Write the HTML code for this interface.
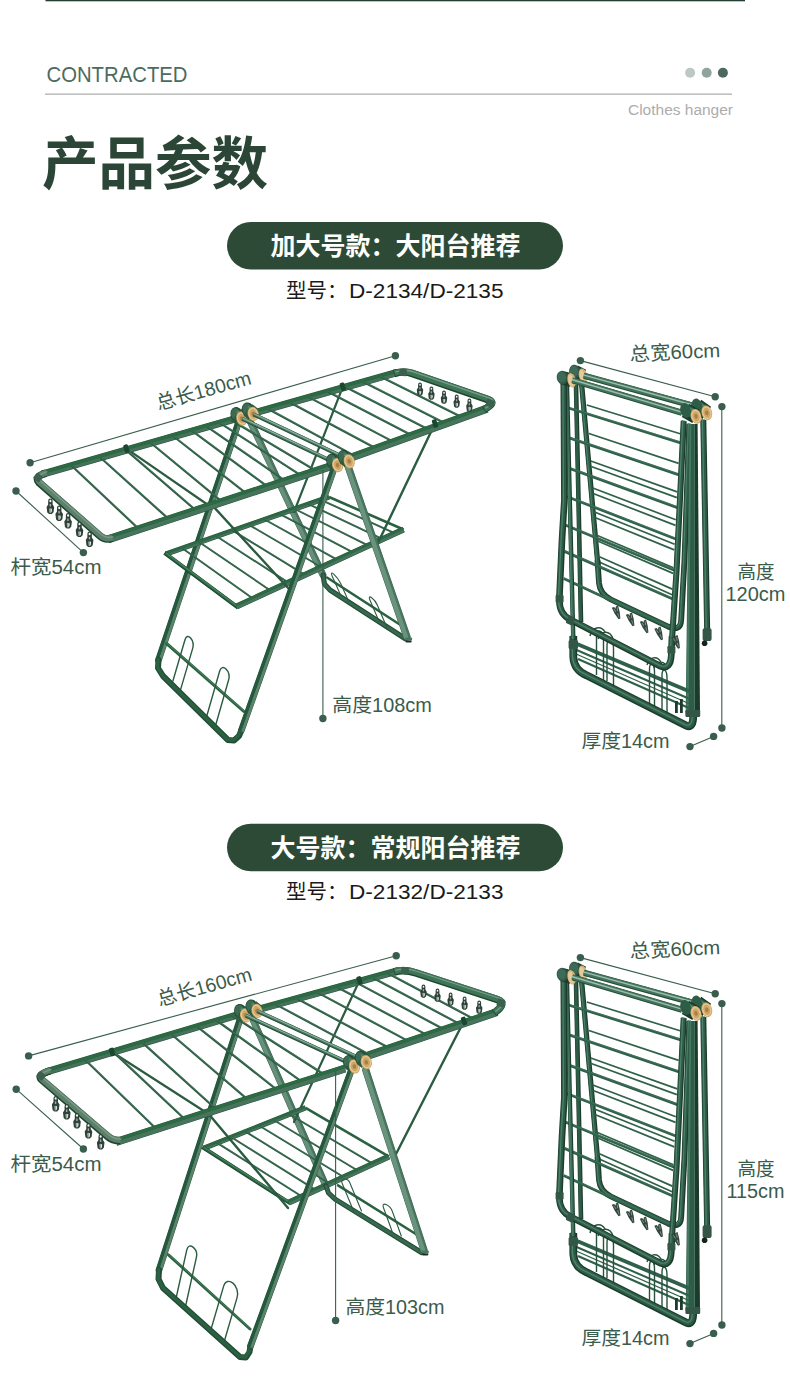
<!DOCTYPE html>
<html lang="zh-CN"><head><meta charset="utf-8"><title>产品参数</title>
<style>html,body{margin:0;padding:0;background:#fff;font-family:"Liberation Sans",sans-serif}#page{width:790px;height:1382px;position:relative;overflow:hidden}.sr{position:absolute;left:0;top:0;width:1px;height:1px;overflow:hidden;clip:rect(0 0 0 0);clip-path:inset(50%);white-space:nowrap}</style></head>
<body><div id="page">
<svg width="790" height="1382" viewBox="0 0 790 1382" style="display:block">
<rect width="790" height="1382" fill="#fff"/>
<rect x="45.5" y="0" width="699.5" height="1.3" fill="#22402f"/>
<text x="46.5" y="82.3" font-family="'Liberation Sans','Noto Sans CJK SC',sans-serif" font-size="22" fill="#4c6b5e" textLength="141" lengthAdjust="spacingAndGlyphs">CONTRACTED</text>
<rect x="45" y="93.6" width="687" height="1" fill="#959b98"/>
<circle cx="690.1" cy="72.8" r="5" fill="#bcc9c3"/>
<circle cx="706.7" cy="72.8" r="5" fill="#8fa49b"/>
<circle cx="722.9" cy="72.8" r="5" fill="#4c695e"/>
<text x="628" y="115.4" font-family="'Liberation Sans','Noto Sans CJK SC',sans-serif" font-size="15.5" fill="#acadad" textLength="105" lengthAdjust="spacingAndGlyphs">Clothes hanger</text>
<text x="42" y="183.5" font-family="'Liberation Sans','Noto Sans CJK SC',sans-serif" font-size="56.5" font-weight="700" fill="#2b4636">产品参数</text>
<rect x="227" y="222" width="336" height="47.5" rx="23.75" fill="#2d4a36"/>
<text x="395.5" y="255" text-anchor="middle" font-family="'Liberation Sans','Noto Sans CJK SC',sans-serif" font-size="25" font-weight="700" fill="#ffffff">加大号款：大阳台推荐</text>
<text x="286" y="297.6" font-family="'Liberation Sans','Noto Sans CJK SC',sans-serif" font-size="20.5" fill="#1a1a1a">型号：</text>
<text x="349" y="297.6" font-family="'Liberation Sans','Noto Sans CJK SC',sans-serif" font-size="20.5" fill="#1a1a1a" textLength="154.5" lengthAdjust="spacingAndGlyphs">D-2134/D-2135</text>
<rect x="227" y="823.8" width="336" height="47.5" rx="23.75" fill="#2d4a36"/>
<text x="395.5" y="857" text-anchor="middle" font-family="'Liberation Sans','Noto Sans CJK SC',sans-serif" font-size="25" font-weight="700" fill="#ffffff">大号款：常规阳台推荐</text>
<text x="286" y="899.4" font-family="'Liberation Sans','Noto Sans CJK SC',sans-serif" font-size="20.5" fill="#1a1a1a">型号：</text>
<text x="349" y="899.4" font-family="'Liberation Sans','Noto Sans CJK SC',sans-serif" font-size="20.5" fill="#1a1a1a" textLength="154.5" lengthAdjust="spacingAndGlyphs">D-2132/D-2133</text>
<g><path d="M240.3 417.2L158.5 660" stroke="#2c5641" stroke-width="6.7" stroke-linecap="round" fill="none"/><path d="M241.7 417.7L159.9 660.5" stroke="#5b836c" stroke-width="2.9" stroke-linecap="round" fill="none"/><path d="M238.9 416.7L157.1 659.5" stroke="#23593c" stroke-width="2.9" stroke-linecap="round" fill="none"/><path d="M248.3 417.4L323 575" stroke="#3a6651" stroke-width="6.9" stroke-linecap="round" fill="none"/><path d="M250.1 416.5L324.8 574.2" stroke="#4a7660" stroke-width="2" stroke-linecap="round" fill="none"/><path d="M247.4 417.8L322.1 575.4" stroke="#67907b" stroke-width="4" stroke-linecap="round" fill="none"/><path d="M126.4 448.6L211 507" stroke="#2b5b40" stroke-width="2.2" stroke-linecap="round" fill="none"/><path d="M342.8 386.8L294 512" stroke="#2b5b40" stroke-width="2.2" stroke-linecap="round" fill="none"/><path d="M166 554L329 497" stroke="#2a5540" stroke-width="5.3" stroke-linecap="butt" fill="none"/><path d="M166.4 555L329.4 498" stroke="#46715a" stroke-width="2.2" stroke-linecap="butt" fill="none"/><path d="M165.6 553L328.6 496" stroke="#2b6b42" stroke-width="2.2" stroke-linecap="butt" fill="none"/><path d="M182.3 548.3L253.2 598.8" stroke="#2a5a40" stroke-width="1.9" stroke-linecap="butt" fill="none"/><path d="M182.3 547.8L253.2 598.3" stroke="#5c917a" stroke-width="0.7" stroke-linecap="butt" fill="none" opacity="0.6"/><path d="M199.4 542.3L270.7 590.7" stroke="#2a5a40" stroke-width="1.9" stroke-linecap="butt" fill="none"/><path d="M199.4 541.8L270.7 590.2" stroke="#5c917a" stroke-width="0.7" stroke-linecap="butt" fill="none" opacity="0.6"/><path d="M216.5 536.3L288.3 582.6" stroke="#2a5a40" stroke-width="1.9" stroke-linecap="butt" fill="none"/><path d="M216.5 535.8L288.3 582.1" stroke="#5c917a" stroke-width="0.7" stroke-linecap="butt" fill="none" opacity="0.6"/><path d="M232.8 530.6L305 574.9" stroke="#2a5a40" stroke-width="1.9" stroke-linecap="butt" fill="none"/><path d="M232.8 530.1L305 574.4" stroke="#5c917a" stroke-width="0.7" stroke-linecap="butt" fill="none" opacity="0.6"/><path d="M249.1 524.9L321.7 567.2" stroke="#2a5a40" stroke-width="1.9" stroke-linecap="butt" fill="none"/><path d="M249.1 524.4L321.7 566.7" stroke="#5c917a" stroke-width="0.7" stroke-linecap="butt" fill="none" opacity="0.6"/><path d="M264.6 519.5L337.5 559.9" stroke="#2a5a40" stroke-width="1.9" stroke-linecap="butt" fill="none"/><path d="M264.6 519L337.5 559.4" stroke="#5c917a" stroke-width="0.7" stroke-linecap="butt" fill="none" opacity="0.6"/><path d="M280.1 514.1L353.4 552.6" stroke="#2a5a40" stroke-width="1.9" stroke-linecap="butt" fill="none"/><path d="M280.1 513.6L353.4 552.1" stroke="#5c917a" stroke-width="0.7" stroke-linecap="butt" fill="none" opacity="0.6"/><path d="M294.8 509L368.4 545.7" stroke="#2a5a40" stroke-width="1.9" stroke-linecap="butt" fill="none"/><path d="M294.8 508.5L368.4 545.2" stroke="#5c917a" stroke-width="0.7" stroke-linecap="butt" fill="none" opacity="0.6"/><path d="M308.6 504.1L382.6 539.1" stroke="#2a5a40" stroke-width="1.9" stroke-linecap="butt" fill="none"/><path d="M308.6 503.6L382.6 538.6" stroke="#5c917a" stroke-width="0.7" stroke-linecap="butt" fill="none" opacity="0.6"/><path d="M320.9 499.9L395.1 533.4" stroke="#2a5a40" stroke-width="1.9" stroke-linecap="butt" fill="none"/><path d="M320.9 499.4L395.1 532.9" stroke="#5c917a" stroke-width="0.7" stroke-linecap="butt" fill="none" opacity="0.6"/><path d="M329 497L403.5 529.5" stroke="#2a6140" stroke-width="2.6" stroke-linecap="butt" fill="none"/><path d="M166 554L236.5 606.5" stroke="#1c4630" stroke-width="3.8" stroke-linecap="square" fill="none"/><path d="M166.3 553.6L236.8 606.1" stroke="#2a6140" stroke-width="2.9" stroke-linecap="square" fill="none"/><path d="M166.5 553.4L237 605.9" stroke="#47875f" stroke-width="1.1" stroke-linecap="square" fill="none"/><path d="M236.5 606.5L403.5 529.5" stroke="#2a5540" stroke-width="6.1" stroke-linecap="butt" fill="none"/><path d="M237 607.6L404 530.6" stroke="#48735c" stroke-width="2.9" stroke-linecap="butt" fill="none"/><path d="M235.9 605.2L402.9 528.2" stroke="#2b6c42" stroke-width="2.3" stroke-linecap="butt" fill="none"/><path d="M323 575L324.5 584L330 590L405 638.5" stroke="#234b36" stroke-width="5.1" stroke-linecap="round" stroke-linejoin="round" fill="none"/><path d="M323 575L324.5 584L330 590L405 638.5" stroke="#37694e" stroke-width="3" stroke-linecap="round" stroke-linejoin="round" fill="none"/><path d="M327 577.5L399 624" stroke="#2a6140" stroke-width="2.6" stroke-linecap="round" fill="none"/><path d="M340.3 594.4L332.2 576.2C328.8 568.6 337.4 576.2 340.8 583.8L348.9 602" stroke="#2b5b40" stroke-width="1.1" fill="none" stroke-linecap="round"/><path d="M379.2 621.8L369.8 599.7C367.2 593.4 374.8 598.9 377.4 605.2L386.8 627.3" stroke="#2b5b40" stroke-width="1.1" fill="none" stroke-linecap="round"/><path d="M166.6 643.5L243.8 711.4" stroke="#2a6140" stroke-width="3" stroke-linecap="round" fill="none"/><path d="M166.6 642.9L243.8 710.8" stroke="#47875f" stroke-width="1" stroke-linecap="round" fill="none"/><path d="M172.9 681L185 639.7C187.4 631.6 195 640.5 192.6 648.6L180.5 689.9" stroke="#2b5b40" stroke-width="1.4" fill="none" stroke-linecap="round"/><path d="M207 715.2L219.6 671.2C222.1 662.4 231.1 671.2 228.6 680L216 724" stroke="#2b5b40" stroke-width="1.4" fill="none" stroke-linecap="round"/><path d="M158.5 660L158 668L163 676L228 740L234 740.5L239 736L241.5 730" stroke="#234b36" stroke-width="6" stroke-linecap="round" stroke-linejoin="round" fill="none"/><path d="M158.1 659.5L157.6 667.5L162.6 675.5L227.6 739.5L233.6 740L238.6 735.5L241.1 729.5" stroke="#2a6140" stroke-width="3.6" stroke-linecap="round" stroke-linejoin="round" fill="none"/><path d="M42 474.3L240 417.4" stroke="#2a5540" stroke-width="7.3" stroke-linecap="butt" fill="none"/><path d="M42.4 475.8L240.4 418.9" stroke="#46715a" stroke-width="3.2" stroke-linecap="butt" fill="none"/><path d="M41.6 472.8L239.6 415.9" stroke="#2b6b42" stroke-width="3.2" stroke-linecap="butt" fill="none"/><path d="M71.7 465.8L139.1 529.2" stroke="#2a5a40" stroke-width="2.2" stroke-linecap="butt" fill="none"/><path d="M71.7 465.3L139.1 528.7" stroke="#5c917a" stroke-width="0.8" stroke-linecap="butt" fill="none" opacity="0.6"/><path d="M100.4 457.5L169.1 519.4" stroke="#2a5a40" stroke-width="2.2" stroke-linecap="butt" fill="none"/><path d="M100.4 457L169.1 518.9" stroke="#5c917a" stroke-width="0.8" stroke-linecap="butt" fill="none" opacity="0.6"/><path d="M126.1 450.1L196.1 510.5" stroke="#2a5a40" stroke-width="2.2" stroke-linecap="butt" fill="none"/><path d="M126.1 449.6L196.1 510" stroke="#5c917a" stroke-width="0.8" stroke-linecap="butt" fill="none" opacity="0.6"/><path d="M150.9 443L222.2 501.9" stroke="#2a5a40" stroke-width="2.2" stroke-linecap="butt" fill="none"/><path d="M150.9 442.5L222.2 501.4" stroke="#5c917a" stroke-width="0.8" stroke-linecap="butt" fill="none" opacity="0.6"/><path d="M173.7 436.5L246.9 493.8" stroke="#2a5a40" stroke-width="2.2" stroke-linecap="butt" fill="none"/><path d="M173.7 436L246.9 493.3" stroke="#5c917a" stroke-width="0.8" stroke-linecap="butt" fill="none" opacity="0.6"/><path d="M192.5 431.1L268 486.9" stroke="#2a5a40" stroke-width="2.2" stroke-linecap="butt" fill="none"/><path d="M192.5 430.6L268 486.4" stroke="#5c917a" stroke-width="0.8" stroke-linecap="butt" fill="none" opacity="0.6"/><path d="M207.3 426.8L285.6 481.1" stroke="#2a5a40" stroke-width="2.2" stroke-linecap="butt" fill="none"/><path d="M207.3 426.3L285.6 480.6" stroke="#5c917a" stroke-width="0.8" stroke-linecap="butt" fill="none" opacity="0.6"/><path d="M220.2 423.1L301.7 475.8" stroke="#2a5a40" stroke-width="2.2" stroke-linecap="butt" fill="none"/><path d="M220.2 422.6L301.7 475.3" stroke="#5c917a" stroke-width="0.8" stroke-linecap="butt" fill="none" opacity="0.6"/><path d="M231.1 420L316.3 471" stroke="#2a5a40" stroke-width="2.2" stroke-linecap="butt" fill="none"/><path d="M231.1 419.5L316.3 470.5" stroke="#5c917a" stroke-width="0.8" stroke-linecap="butt" fill="none" opacity="0.6"/><path d="M254 413L397 372.6" stroke="#2a5540" stroke-width="7.3" stroke-linecap="butt" fill="none"/><path d="M254.4 414.5L397.4 374.1" stroke="#46715a" stroke-width="3.2" stroke-linecap="butt" fill="none"/><path d="M253.6 411.5L396.6 371.1" stroke="#2b6b42" stroke-width="3.2" stroke-linecap="butt" fill="none"/><path d="M268.3 409L355.1 456.1" stroke="#2a5a40" stroke-width="2.2" stroke-linecap="butt" fill="none"/><path d="M268.3 408.5L355.1 455.6" stroke="#5c917a" stroke-width="0.8" stroke-linecap="butt" fill="none" opacity="0.6"/><path d="M290.5 402.7L376.2 448.5" stroke="#2a5a40" stroke-width="2.2" stroke-linecap="butt" fill="none"/><path d="M290.5 402.2L376.2 448" stroke="#5c917a" stroke-width="0.8" stroke-linecap="butt" fill="none" opacity="0.6"/><path d="M309.1 397.4L393.9 442.1" stroke="#2a5a40" stroke-width="2.2" stroke-linecap="butt" fill="none"/><path d="M309.1 396.9L393.9 441.6" stroke="#5c917a" stroke-width="0.8" stroke-linecap="butt" fill="none" opacity="0.6"/><path d="M328.4 392L412.2 435.5" stroke="#2a5a40" stroke-width="2.2" stroke-linecap="butt" fill="none"/><path d="M328.4 391.5L412.2 435" stroke="#5c917a" stroke-width="0.8" stroke-linecap="butt" fill="none" opacity="0.6"/><path d="M345.5 387.1L428.5 429.6" stroke="#2a5a40" stroke-width="2.2" stroke-linecap="butt" fill="none"/><path d="M345.5 386.6L428.5 429.1" stroke="#5c917a" stroke-width="0.8" stroke-linecap="butt" fill="none" opacity="0.6"/><path d="M363.4 382.1L445.5 423.5" stroke="#2a5a40" stroke-width="2.2" stroke-linecap="butt" fill="none"/><path d="M363.4 381.6L445.5 423" stroke="#5c917a" stroke-width="0.8" stroke-linecap="butt" fill="none" opacity="0.6"/><path d="M381.3 377L462.5 417.4" stroke="#2a5a40" stroke-width="2.2" stroke-linecap="butt" fill="none"/><path d="M381.3 376.5L462.5 416.9" stroke="#5c917a" stroke-width="0.8" stroke-linecap="butt" fill="none" opacity="0.6"/><path d="M435 423.5L376 547" stroke="#2b5b40" stroke-width="2.4" stroke-linecap="round" fill="none"/><path d="M212 505L290 590" stroke="#2b5b40" stroke-width="2.4" stroke-linecap="round" fill="none"/><path d="M108 539.4L331 466.2" stroke="#2a5540" stroke-width="8.1" stroke-linecap="butt" fill="none"/><path d="M108.5 540.8L331.5 467.6" stroke="#48735c" stroke-width="4.2" stroke-linecap="butt" fill="none"/><path d="M107.3 537.4L330.3 464.2" stroke="#2b6c42" stroke-width="3" stroke-linecap="butt" fill="none"/><path d="M46 473.2Q34 476.6 39 482.6L100 536Q105 540.5 112 538.2" stroke="#1c4630" stroke-width="7.6" fill="none" stroke-linecap="butt"/><path d="M46 473.2Q34 476.6 39 482.6L100 536Q105 540.5 112 538.2" stroke="#5d806a" stroke-width="6" fill="none" stroke-linecap="butt" transform="translate(0.5 -0.6)"/><path d="M46 473.2Q34 476.6 39 482.6L100 536Q105 540.5 112 538.2" stroke="#7a9c88" stroke-width="1.3" fill="none" stroke-linecap="butt" transform="translate(1.4 -1.5)"/><rect x="-3.8" y="-3.6" width="7.6" height="7.2" rx="1.2" fill="#3d5f4d" transform="translate(38 477.5) rotate(40)"/><rect x="-2.4" y="-4.2" width="4.8" height="8.4" rx="1.5" fill="#1c4630" transform="translate(126.4 448.6) rotate(-18)"/><path d="M352 457.2L487 408.6" stroke="#2a5540" stroke-width="8.1" stroke-linecap="butt" fill="none"/><path d="M352.5 458.6L487.5 410" stroke="#48735c" stroke-width="4.2" stroke-linecap="butt" fill="none"/><path d="M351.3 455.2L486.3 406.6" stroke="#2b6c42" stroke-width="3" stroke-linecap="butt" fill="none"/><path d="M394 373.5Q404 370.6 412 373.4L488 399.6Q497 402.8 484 409.6" stroke="#1c4630" stroke-width="7.6" fill="none" stroke-linecap="butt"/><path d="M394 373.5Q404 370.6 412 373.4L488 399.6Q497 402.8 484 409.6" stroke="#3f7557" stroke-width="6" fill="none" stroke-linecap="butt" transform="translate(0.5 -0.6)"/><path d="M394 373.5Q404 370.6 412 373.4L488 399.6Q497 402.8 484 409.6" stroke="#7a9c88" stroke-width="1.3" fill="none" stroke-linecap="butt" transform="translate(1.4 -1.5)"/><rect x="-3.8" y="-3.6" width="7.6" height="7.2" rx="1.2" fill="#3d5f4d" transform="translate(490 403.2) rotate(20)"/><rect x="-3.8" y="-3.6" width="7.6" height="7.2" rx="1.2" fill="#3d5f4d" transform="translate(403 372.5) rotate(5)"/><rect x="-2.4" y="-4.2" width="4.8" height="8.4" rx="1.5" fill="#1c4630" transform="translate(342.8 386.8) rotate(-18)"/><rect x="-2.4" y="-4.2" width="4.8" height="8.4" rx="1.5" fill="#1c4630" transform="translate(435 423.5) rotate(-18)"/><g transform="translate(236.6 414.6) rotate(-15)"><ellipse rx="6.1" ry="7.7" fill="#1c4630"/><ellipse cx="-0.4" cy="-0.3" rx="5" ry="6.6" fill="#3c6a52"/></g><path d="M236.6 414.6L241.8 418.5" stroke="#2b5a41" stroke-width="14.4" stroke-linecap="butt" fill="none"/><path d="M236.6 411L241.8 414.9" stroke="#4d8063" stroke-width="2.6" stroke-linecap="butt" fill="none"/><g transform="translate(241.8 418.5) rotate(-15)"><ellipse rx="5.5" ry="7.2" fill="#cfa565"/><ellipse rx="4.2" ry="5.6" fill="none" stroke="#e6c998" stroke-width="1.2"/><ellipse rx="1.76" ry="2.3040000000000003" fill="#a97f45"/></g><g transform="translate(248 410) rotate(-15)"><ellipse rx="6.1" ry="7.7" fill="#1c4630"/><ellipse cx="-0.4" cy="-0.3" rx="5" ry="6.6" fill="#3c6a52"/></g><path d="M248 410L253.2 413.9" stroke="#2b5a41" stroke-width="14.4" stroke-linecap="butt" fill="none"/><path d="M248 406.4L253.2 410.3" stroke="#4d8063" stroke-width="2.6" stroke-linecap="butt" fill="none"/><g transform="translate(253.2 413.9) rotate(-15)"><ellipse rx="5.5" ry="7.2" fill="#cfa565"/><ellipse rx="4.2" ry="5.6" fill="none" stroke="#e6c998" stroke-width="1.2"/><ellipse rx="1.76" ry="2.3040000000000003" fill="#a97f45"/></g><path d="M242.3 418.8L332 461.5" stroke="#234b36" stroke-width="3.9" stroke-linecap="butt" fill="none"/><path d="M242.5 418.4L332.2 461.1" stroke="#41715a" stroke-width="3" stroke-linecap="butt" fill="none"/><path d="M242.6 418.1L332.3 460.8" stroke="#8ab09c" stroke-width="1.2" stroke-linecap="butt" fill="none"/><path d="M253.6 414.4L343.5 457.3" stroke="#234b36" stroke-width="3.9" stroke-linecap="butt" fill="none"/><path d="M253.8 414L343.7 456.9" stroke="#41715a" stroke-width="3" stroke-linecap="butt" fill="none"/><path d="M253.9 413.7L343.8 456.6" stroke="#8ab09c" stroke-width="1.2" stroke-linecap="butt" fill="none"/><path d="M335.3 465.2L241.5 730" stroke="#2c5641" stroke-width="6.7" stroke-linecap="round" fill="none"/><path d="M336.7 465.7L242.9 730.5" stroke="#5b836c" stroke-width="2.9" stroke-linecap="round" fill="none"/><path d="M334 464.7L240.1 729.5" stroke="#23593c" stroke-width="2.9" stroke-linecap="round" fill="none"/><path d="M347.7 465.2L407 637" stroke="#3a6651" stroke-width="7.3" stroke-linecap="round" fill="none"/><path d="M349.8 464.5L409.1 636.3" stroke="#4a7660" stroke-width="1.9" stroke-linecap="round" fill="none"/><path d="M346.8 465.5L406.1 637.3" stroke="#6a937e" stroke-width="4.5" stroke-linecap="round" fill="none"/><rect x="404.9" y="637.6" width="7.2" height="3" rx="1" fill="#4a7660"/><rect x="405.3" y="640.4" width="6.4" height="2" rx="0.8" fill="#1d2f26"/><g transform="translate(332.4 461.2) rotate(-15)"><ellipse rx="6.1" ry="7.7" fill="#1c4630"/><ellipse cx="-0.4" cy="-0.3" rx="5" ry="6.6" fill="#3c6a52"/></g><path d="M332.4 461.2L337.6 465.1" stroke="#2b5a41" stroke-width="14.4" stroke-linecap="butt" fill="none"/><path d="M332.4 457.6L337.6 461.5" stroke="#4d8063" stroke-width="2.6" stroke-linecap="butt" fill="none"/><g transform="translate(337.6 465.1) rotate(-15)"><ellipse rx="5.5" ry="7.2" fill="#cfa565"/><ellipse rx="4.2" ry="5.6" fill="none" stroke="#e6c998" stroke-width="1.2"/><ellipse rx="1.76" ry="2.3040000000000003" fill="#a97f45"/></g><g transform="translate(344 457.4) rotate(-15)"><ellipse rx="6.1" ry="7.7" fill="#1c4630"/><ellipse cx="-0.4" cy="-0.3" rx="5" ry="6.6" fill="#3c6a52"/></g><path d="M344 457.4L349.2 461.3" stroke="#2b5a41" stroke-width="14.4" stroke-linecap="butt" fill="none"/><path d="M344 453.8L349.2 457.7" stroke="#4d8063" stroke-width="2.6" stroke-linecap="butt" fill="none"/><g transform="translate(349.2 461.3) rotate(-15)"><ellipse rx="5.5" ry="7.2" fill="#cfa565"/><ellipse rx="4.2" ry="5.6" fill="none" stroke="#e6c998" stroke-width="1.2"/><ellipse rx="1.76" ry="2.3040000000000003" fill="#a97f45"/></g><g transform="translate(50.4 499) rotate(0) scale(1.12)"><path d="M-2 1.7a2 2.1 0 0 1 4 0v3.1l1.4 2.3-.6 4.7-1.6 1.6h-2.4l-1.6-1.4-.6-4.8 1.4-2.4z" fill="#2f4239"/><ellipse cx="0" cy="1.8" rx=".9" ry="1.1" fill="#f2f5f3"/><path d="M-.7 4.4h1.2v2.2h-1.2z" fill="#a9b5af"/><path d="M-1.3 8.6l1.1-.4 1.5.5-.3 3-.8.7h-1z" fill="#9aa8a1"/><path d="M.4 8.6l.9.3-.3 2.6-.6.6z" fill="#e9eeeb"/></g><g transform="translate(59.2 506) rotate(0) scale(1.12)"><path d="M-2 1.7a2 2.1 0 0 1 4 0v3.1l1.4 2.3-.6 4.7-1.6 1.6h-2.4l-1.6-1.4-.6-4.8 1.4-2.4z" fill="#2f4239"/><ellipse cx="0" cy="1.8" rx=".9" ry="1.1" fill="#f2f5f3"/><path d="M-.7 4.4h1.2v2.2h-1.2z" fill="#a9b5af"/><path d="M-1.3 8.6l1.1-.4 1.5.5-.3 3-.8.7h-1z" fill="#9aa8a1"/><path d="M.4 8.6l.9.3-.3 2.6-.6.6z" fill="#e9eeeb"/></g><g transform="translate(68.1 513.5) rotate(0) scale(1.12)"><path d="M-2 1.7a2 2.1 0 0 1 4 0v3.1l1.4 2.3-.6 4.7-1.6 1.6h-2.4l-1.6-1.4-.6-4.8 1.4-2.4z" fill="#2f4239"/><ellipse cx="0" cy="1.8" rx=".9" ry="1.1" fill="#f2f5f3"/><path d="M-.7 4.4h1.2v2.2h-1.2z" fill="#a9b5af"/><path d="M-1.3 8.6l1.1-.4 1.5.5-.3 3-.8.7h-1z" fill="#9aa8a1"/><path d="M.4 8.6l.9.3-.3 2.6-.6.6z" fill="#e9eeeb"/></g><g transform="translate(79.5 522) rotate(0) scale(1.12)"><path d="M-2 1.7a2 2.1 0 0 1 4 0v3.1l1.4 2.3-.6 4.7-1.6 1.6h-2.4l-1.6-1.4-.6-4.8 1.4-2.4z" fill="#2f4239"/><ellipse cx="0" cy="1.8" rx=".9" ry="1.1" fill="#f2f5f3"/><path d="M-.7 4.4h1.2v2.2h-1.2z" fill="#a9b5af"/><path d="M-1.3 8.6l1.1-.4 1.5.5-.3 3-.8.7h-1z" fill="#9aa8a1"/><path d="M.4 8.6l.9.3-.3 2.6-.6.6z" fill="#e9eeeb"/></g><g transform="translate(89.6 532) rotate(0) scale(1.12)"><path d="M-2 1.7a2 2.1 0 0 1 4 0v3.1l1.4 2.3-.6 4.7-1.6 1.6h-2.4l-1.6-1.4-.6-4.8 1.4-2.4z" fill="#2f4239"/><ellipse cx="0" cy="1.8" rx=".9" ry="1.1" fill="#f2f5f3"/><path d="M-.7 4.4h1.2v2.2h-1.2z" fill="#a9b5af"/><path d="M-1.3 8.6l1.1-.4 1.5.5-.3 3-.8.7h-1z" fill="#9aa8a1"/><path d="M.4 8.6l.9.3-.3 2.6-.6.6z" fill="#e9eeeb"/></g><g transform="translate(420 383) rotate(0) scale(0.95)"><path d="M-2 1.7a2 2.1 0 0 1 4 0v3.1l1.4 2.3-.6 4.7-1.6 1.6h-2.4l-1.6-1.4-.6-4.8 1.4-2.4z" fill="#2f4239"/><ellipse cx="0" cy="1.8" rx=".9" ry="1.1" fill="#f2f5f3"/><path d="M-.7 4.4h1.2v2.2h-1.2z" fill="#a9b5af"/><path d="M-1.3 8.6l1.1-.4 1.5.5-.3 3-.8.7h-1z" fill="#9aa8a1"/><path d="M.4 8.6l.9.3-.3 2.6-.6.6z" fill="#e9eeeb"/></g><g transform="translate(431.4 387) rotate(0) scale(0.95)"><path d="M-2 1.7a2 2.1 0 0 1 4 0v3.1l1.4 2.3-.6 4.7-1.6 1.6h-2.4l-1.6-1.4-.6-4.8 1.4-2.4z" fill="#2f4239"/><ellipse cx="0" cy="1.8" rx=".9" ry="1.1" fill="#f2f5f3"/><path d="M-.7 4.4h1.2v2.2h-1.2z" fill="#a9b5af"/><path d="M-1.3 8.6l1.1-.4 1.5.5-.3 3-.8.7h-1z" fill="#9aa8a1"/><path d="M.4 8.6l.9.3-.3 2.6-.6.6z" fill="#e9eeeb"/></g><g transform="translate(444 391) rotate(0) scale(0.95)"><path d="M-2 1.7a2 2.1 0 0 1 4 0v3.1l1.4 2.3-.6 4.7-1.6 1.6h-2.4l-1.6-1.4-.6-4.8 1.4-2.4z" fill="#2f4239"/><ellipse cx="0" cy="1.8" rx=".9" ry="1.1" fill="#f2f5f3"/><path d="M-.7 4.4h1.2v2.2h-1.2z" fill="#a9b5af"/><path d="M-1.3 8.6l1.1-.4 1.5.5-.3 3-.8.7h-1z" fill="#9aa8a1"/><path d="M.4 8.6l.9.3-.3 2.6-.6.6z" fill="#e9eeeb"/></g><g transform="translate(456.7 395) rotate(0) scale(0.95)"><path d="M-2 1.7a2 2.1 0 0 1 4 0v3.1l1.4 2.3-.6 4.7-1.6 1.6h-2.4l-1.6-1.4-.6-4.8 1.4-2.4z" fill="#2f4239"/><ellipse cx="0" cy="1.8" rx=".9" ry="1.1" fill="#f2f5f3"/><path d="M-.7 4.4h1.2v2.2h-1.2z" fill="#a9b5af"/><path d="M-1.3 8.6l1.1-.4 1.5.5-.3 3-.8.7h-1z" fill="#9aa8a1"/><path d="M.4 8.6l.9.3-.3 2.6-.6.6z" fill="#e9eeeb"/></g><g transform="translate(469.4 399) rotate(0) scale(0.95)"><path d="M-2 1.7a2 2.1 0 0 1 4 0v3.1l1.4 2.3-.6 4.7-1.6 1.6h-2.4l-1.6-1.4-.6-4.8 1.4-2.4z" fill="#2f4239"/><ellipse cx="0" cy="1.8" rx=".9" ry="1.1" fill="#f2f5f3"/><path d="M-.7 4.4h1.2v2.2h-1.2z" fill="#a9b5af"/><path d="M-1.3 8.6l1.1-.4 1.5.5-.3 3-.8.7h-1z" fill="#9aa8a1"/><path d="M.4 8.6l.9.3-.3 2.6-.6.6z" fill="#e9eeeb"/></g></g>
<path d="M30.1 462.8L395.4 355.7" stroke="#3a5e4d" stroke-width="1.1" stroke-linecap="butt" fill="none"/>
<circle cx="30.1" cy="462.8" r="3.7" fill="#3a5e4d"/>
<circle cx="395.4" cy="355.7" r="3.7" fill="#3a5e4d"/>
<path d="M16 491L83.4 552.6" stroke="#3a5e4d" stroke-width="1.1" stroke-linecap="butt" fill="none"/>
<circle cx="16" cy="491" r="3.7" fill="#3a5e4d"/>
<circle cx="83.4" cy="552.6" r="3.7" fill="#3a5e4d"/>
<path d="M322.9 470L322.9 718.5" stroke="#3a5e4d" stroke-width="1.1" stroke-linecap="butt" fill="none"/>
<circle cx="322.9" cy="718.5" r="3.7" fill="#3a5e4d"/>
<text x="158.6" y="410.2" font-family="'Liberation Sans','Noto Sans CJK SC',sans-serif" font-size="19.5" fill="#3b5b4b" textLength="97.5" lengthAdjust="spacingAndGlyphs" transform="rotate(-15.7 158.6 410.2)">总长180cm</text>
<text x="10.5" y="573.5" font-family="'Liberation Sans','Noto Sans CJK SC',sans-serif" font-size="19.5" fill="#3b5b4b" textLength="91" lengthAdjust="spacingAndGlyphs">杆宽54cm</text>
<text x="332.3" y="711.9" font-family="'Liberation Sans','Noto Sans CJK SC',sans-serif" font-size="19.5" fill="#3b5b4b" textLength="99.5" lengthAdjust="spacingAndGlyphs">高度108cm</text>
<g><path d="M240.7 1017.2L159 1270" stroke="#2c5641" stroke-width="6.7" stroke-linecap="round" fill="none"/><path d="M242.1 1017.6L160.4 1270.4" stroke="#5b836c" stroke-width="2.9" stroke-linecap="round" fill="none"/><path d="M239.4 1016.7L157.6 1269.6" stroke="#23593c" stroke-width="2.9" stroke-linecap="round" fill="none"/><path d="M252.4 1018.3L326 1186" stroke="#3a6651" stroke-width="6.9" stroke-linecap="round" fill="none"/><path d="M254.2 1017.5L327.8 1185.2" stroke="#4a7660" stroke-width="2" stroke-linecap="round" fill="none"/><path d="M251.5 1018.7L325.1 1186.4" stroke="#67907b" stroke-width="4" stroke-linecap="round" fill="none"/><path d="M112 1052L207 1113" stroke="#2b5b40" stroke-width="2.2" stroke-linecap="round" fill="none"/><path d="M359.5 980.5L294 1122" stroke="#2b5b40" stroke-width="2.2" stroke-linecap="round" fill="none"/><path d="M203.9 1148.2L305.6 1107.8" stroke="#2a5540" stroke-width="5.3" stroke-linecap="butt" fill="none"/><path d="M204.3 1149.2L306 1108.8" stroke="#46715a" stroke-width="2.2" stroke-linecap="butt" fill="none"/><path d="M203.5 1147.2L305.2 1106.8" stroke="#2b6b42" stroke-width="2.2" stroke-linecap="butt" fill="none"/><path d="M217.1 1142.9L301.9 1196.5" stroke="#2a5a40" stroke-width="1.9" stroke-linecap="butt" fill="none"/><path d="M217.1 1142.4L301.9 1196" stroke="#5c917a" stroke-width="0.7" stroke-linecap="butt" fill="none" opacity="0.6"/><path d="M231.4 1137.3L315.9 1190.1" stroke="#2a5a40" stroke-width="1.9" stroke-linecap="butt" fill="none"/><path d="M231.4 1136.8L315.9 1189.6" stroke="#5c917a" stroke-width="0.7" stroke-linecap="butt" fill="none" opacity="0.6"/><path d="M245.6 1131.6L329.9 1183.7" stroke="#2a5a40" stroke-width="1.9" stroke-linecap="butt" fill="none"/><path d="M245.6 1131.1L329.9 1183.2" stroke="#5c917a" stroke-width="0.7" stroke-linecap="butt" fill="none" opacity="0.6"/><path d="M259.8 1126L344 1177.3" stroke="#2a5a40" stroke-width="1.9" stroke-linecap="butt" fill="none"/><path d="M259.8 1125.5L344 1176.8" stroke="#5c917a" stroke-width="0.7" stroke-linecap="butt" fill="none" opacity="0.6"/><path d="M274.1 1120.3L358 1170.8" stroke="#2a5a40" stroke-width="1.9" stroke-linecap="butt" fill="none"/><path d="M274.1 1119.8L358 1170.3" stroke="#5c917a" stroke-width="0.7" stroke-linecap="butt" fill="none" opacity="0.6"/><path d="M289.3 1114.3L373 1163.9" stroke="#2a5a40" stroke-width="1.9" stroke-linecap="butt" fill="none"/><path d="M289.3 1113.8L373 1163.4" stroke="#5c917a" stroke-width="0.7" stroke-linecap="butt" fill="none" opacity="0.6"/><path d="M305.6 1107.8L389 1156.6" stroke="#2a6140" stroke-width="2.6" stroke-linecap="butt" fill="none"/><path d="M203.9 1148.2L288.9 1202.5" stroke="#1c4630" stroke-width="3.8" stroke-linecap="square" fill="none"/><path d="M204.1 1147.8L289.1 1202.1" stroke="#2a6140" stroke-width="2.9" stroke-linecap="square" fill="none"/><path d="M204.3 1147.6L289.3 1201.9" stroke="#47875f" stroke-width="1.1" stroke-linecap="square" fill="none"/><path d="M288.9 1202.5L389 1156.6" stroke="#2a5540" stroke-width="6.1" stroke-linecap="butt" fill="none"/><path d="M289.4 1203.6L389.5 1157.7" stroke="#48735c" stroke-width="2.9" stroke-linecap="butt" fill="none"/><path d="M288.3 1201.2L388.4 1155.3" stroke="#2b6c42" stroke-width="2.3" stroke-linecap="butt" fill="none"/><path d="M326 1186L328.5 1193L335.4 1199.4L421.5 1252.5" stroke="#234b36" stroke-width="5.1" stroke-linecap="round" stroke-linejoin="round" fill="none"/><path d="M326 1186L328.5 1193L335.4 1199.4L421.5 1252.5" stroke="#37694e" stroke-width="3" stroke-linecap="round" stroke-linejoin="round" fill="none"/><path d="M338 1185.4L419 1236" stroke="#2a6140" stroke-width="2.6" stroke-linecap="round" fill="none"/><path d="M354 1212L342.1 1183.3C340 1178.3 347.5 1177.3 349.6 1182.3L361.5 1211" stroke="#2b5b40" stroke-width="1.1" fill="none" stroke-linecap="round"/><path d="M392.4 1232.3L383.4 1207.5C381 1201 389.9 1204.7 392.3 1211.2L401.3 1236" stroke="#2b5b40" stroke-width="1.1" fill="none" stroke-linecap="round"/><path d="M168.5 1254.8L250 1329" stroke="#2a6140" stroke-width="3" stroke-linecap="round" fill="none"/><path d="M168.5 1254.2L250 1328.4" stroke="#47875f" stroke-width="1" stroke-linecap="round" fill="none"/><path d="M176 1298.5L186.8 1249.8C188.7 1241.2 198.3 1248.7 196.4 1257.3L185.6 1306" stroke="#2b5b40" stroke-width="1.4" fill="none" stroke-linecap="round"/><path d="M210 1332.7L223.5 1286.6C227.1 1274.4 240.6 1285.7 237 1297.9L223.5 1344" stroke="#2b5b40" stroke-width="1.4" fill="none" stroke-linecap="round"/><path d="M159 1270L158.5 1279L163 1288L240 1357L246 1357.5L249.5 1352L250.5 1346" stroke="#234b36" stroke-width="6" stroke-linecap="round" stroke-linejoin="round" fill="none"/><path d="M158.6 1269.5L158.1 1278.5L162.6 1287.5L239.6 1356.5L245.6 1357L249.1 1351.5L250.1 1345.5" stroke="#2a6140" stroke-width="3.6" stroke-linecap="round" stroke-linejoin="round" fill="none"/><path d="M46 1072L244 1013" stroke="#2a5540" stroke-width="7.3" stroke-linecap="butt" fill="none"/><path d="M46.5 1073.5L244.5 1014.5" stroke="#46715a" stroke-width="3.2" stroke-linecap="butt" fill="none"/><path d="M45.5 1070.5L243.5 1011.5" stroke="#2b6b42" stroke-width="3.2" stroke-linecap="butt" fill="none"/><path d="M85.6 1060.2L156.4 1129" stroke="#2a5a40" stroke-width="2.2" stroke-linecap="butt" fill="none"/><path d="M85.6 1059.7L156.4 1128.5" stroke="#5c917a" stroke-width="0.8" stroke-linecap="butt" fill="none" opacity="0.6"/><path d="M113.3 1051.9L185.4 1119.7" stroke="#2a5a40" stroke-width="2.2" stroke-linecap="butt" fill="none"/><path d="M113.3 1051.4L185.4 1119.2" stroke="#5c917a" stroke-width="0.8" stroke-linecap="butt" fill="none" opacity="0.6"/><path d="M143 1043.1L216.7 1109.7" stroke="#2a5a40" stroke-width="2.2" stroke-linecap="butt" fill="none"/><path d="M143 1042.6L216.7 1109.2" stroke="#5c917a" stroke-width="0.8" stroke-linecap="butt" fill="none" opacity="0.6"/><path d="M171.7 1034.5L247.8 1099.7" stroke="#2a5a40" stroke-width="2.2" stroke-linecap="butt" fill="none"/><path d="M171.7 1034L247.8 1099.2" stroke="#5c917a" stroke-width="0.8" stroke-linecap="butt" fill="none" opacity="0.6"/><path d="M197.5 1026.9L277.4 1090.2" stroke="#2a5a40" stroke-width="2.2" stroke-linecap="butt" fill="none"/><path d="M197.5 1026.4L277.4 1089.7" stroke="#5c917a" stroke-width="0.8" stroke-linecap="butt" fill="none" opacity="0.6"/><path d="M217.3 1021L302.4 1082.2" stroke="#2a5a40" stroke-width="2.2" stroke-linecap="butt" fill="none"/><path d="M217.3 1020.5L302.4 1081.7" stroke="#5c917a" stroke-width="0.8" stroke-linecap="butt" fill="none" opacity="0.6"/><path d="M233.1 1016.2L324.9 1075" stroke="#2a5a40" stroke-width="2.2" stroke-linecap="butt" fill="none"/><path d="M233.1 1015.7L324.9 1074.5" stroke="#5c917a" stroke-width="0.8" stroke-linecap="butt" fill="none" opacity="0.6"/><path d="M258 1009.6L398 970.8" stroke="#2a5540" stroke-width="7.3" stroke-linecap="butt" fill="none"/><path d="M258.4 1011.1L398.4 972.3" stroke="#46715a" stroke-width="3.2" stroke-linecap="butt" fill="none"/><path d="M257.6 1008.1L397.6 969.3" stroke="#2b6b42" stroke-width="3.2" stroke-linecap="butt" fill="none"/><path d="M276.2 1004.6L370 1054.9" stroke="#2a5a40" stroke-width="2.2" stroke-linecap="butt" fill="none"/><path d="M276.2 1004.1L370 1054.4" stroke="#5c917a" stroke-width="0.8" stroke-linecap="butt" fill="none" opacity="0.6"/><path d="M297.2 998.7L389.7 1048.3" stroke="#2a5a40" stroke-width="2.2" stroke-linecap="butt" fill="none"/><path d="M297.2 998.2L389.7 1047.8" stroke="#5c917a" stroke-width="0.8" stroke-linecap="butt" fill="none" opacity="0.6"/><path d="M318.2 992.9L409.3 1041.6" stroke="#2a5a40" stroke-width="2.2" stroke-linecap="butt" fill="none"/><path d="M318.2 992.4L409.3 1041.1" stroke="#5c917a" stroke-width="0.8" stroke-linecap="butt" fill="none" opacity="0.6"/><path d="M337.8 987.5L427.7 1035.4" stroke="#2a5a40" stroke-width="2.2" stroke-linecap="butt" fill="none"/><path d="M337.8 987L427.7 1034.9" stroke="#5c917a" stroke-width="0.8" stroke-linecap="butt" fill="none" opacity="0.6"/><path d="M356 982.4L444.7 1029.7" stroke="#2a5a40" stroke-width="2.2" stroke-linecap="butt" fill="none"/><path d="M356 981.9L444.7 1029.2" stroke="#5c917a" stroke-width="0.8" stroke-linecap="butt" fill="none" opacity="0.6"/><path d="M372.8 977.8L460.4 1024.4" stroke="#2a5a40" stroke-width="2.2" stroke-linecap="butt" fill="none"/><path d="M372.8 977.3L460.4 1023.9" stroke="#5c917a" stroke-width="0.8" stroke-linecap="butt" fill="none" opacity="0.6"/><path d="M388.2 973.5L474.8 1019.5" stroke="#2a5a40" stroke-width="2.2" stroke-linecap="butt" fill="none"/><path d="M388.2 973L474.8 1019" stroke="#5c917a" stroke-width="0.8" stroke-linecap="butt" fill="none" opacity="0.6"/><path d="M464 1021L395 1156" stroke="#2b5b40" stroke-width="2.4" stroke-linecap="round" fill="none"/><path d="M207 1112L288 1208" stroke="#2b5b40" stroke-width="2.4" stroke-linecap="round" fill="none"/><path d="M116 1142L345 1068.5" stroke="#2a5540" stroke-width="8.1" stroke-linecap="butt" fill="none"/><path d="M116.5 1143.4L345.5 1069.9" stroke="#48735c" stroke-width="4.2" stroke-linecap="butt" fill="none"/><path d="M115.4 1140L344.4 1066.5" stroke="#2b6c42" stroke-width="3" stroke-linecap="butt" fill="none"/><path d="M50 1070.8Q36 1074.8 42 1080L106 1135Q112 1141 120 1140.6" stroke="#1c4630" stroke-width="7.6" fill="none" stroke-linecap="butt"/><path d="M50 1070.8Q36 1074.8 42 1080L106 1135Q112 1141 120 1140.6" stroke="#5d806a" stroke-width="6" fill="none" stroke-linecap="butt" transform="translate(0.5 -0.6)"/><path d="M50 1070.8Q36 1074.8 42 1080L106 1135Q112 1141 120 1140.6" stroke="#7a9c88" stroke-width="1.3" fill="none" stroke-linecap="butt" transform="translate(1.4 -1.5)"/><rect x="-3.8" y="-3.6" width="7.6" height="7.2" rx="1.2" fill="#3d5f4d" transform="translate(41 1076) rotate(40)"/><rect x="-2.4" y="-4.2" width="4.8" height="8.4" rx="1.5" fill="#1c4630" transform="translate(112 1052) rotate(-18)"/><path d="M368 1055.6L497 1012" stroke="#2a5540" stroke-width="8.1" stroke-linecap="butt" fill="none"/><path d="M368.5 1057L497.5 1013.4" stroke="#48735c" stroke-width="4.2" stroke-linecap="butt" fill="none"/><path d="M367.3 1053.6L496.3 1010" stroke="#2b6c42" stroke-width="3" stroke-linecap="butt" fill="none"/><path d="M394 972Q404 969 416 973L497 999.5Q508 1003 494 1013" stroke="#1c4630" stroke-width="7.6" fill="none" stroke-linecap="butt"/><path d="M394 972Q404 969 416 973L497 999.5Q508 1003 494 1013" stroke="#3f7557" stroke-width="6" fill="none" stroke-linecap="butt" transform="translate(0.5 -0.6)"/><path d="M394 972Q404 969 416 973L497 999.5Q508 1003 494 1013" stroke="#7a9c88" stroke-width="1.3" fill="none" stroke-linecap="butt" transform="translate(1.4 -1.5)"/><rect x="-3.8" y="-3.6" width="7.6" height="7.2" rx="1.2" fill="#3d5f4d" transform="translate(501 1003) rotate(20)"/><rect x="-3.8" y="-3.6" width="7.6" height="7.2" rx="1.2" fill="#3d5f4d" transform="translate(405 970.6) rotate(5)"/><rect x="-2.4" y="-4.2" width="4.8" height="8.4" rx="1.5" fill="#1c4630" transform="translate(359.5 980.5) rotate(-18)"/><rect x="-2.4" y="-4.2" width="4.8" height="8.4" rx="1.5" fill="#1c4630" transform="translate(464 1021) rotate(-18)"/><g transform="translate(240.4 1011.5) rotate(-15)"><ellipse rx="6.1" ry="7.7" fill="#1c4630"/><ellipse cx="-0.4" cy="-0.3" rx="5" ry="6.6" fill="#3c6a52"/></g><path d="M240.4 1011.5L245.6 1015.4" stroke="#2b5a41" stroke-width="14.4" stroke-linecap="butt" fill="none"/><path d="M240.4 1007.9L245.6 1011.8" stroke="#4d8063" stroke-width="2.6" stroke-linecap="butt" fill="none"/><g transform="translate(245.6 1015.4) rotate(-15)"><ellipse rx="5.5" ry="7.2" fill="#cfa565"/><ellipse rx="4.2" ry="5.6" fill="none" stroke="#e6c998" stroke-width="1.2"/><ellipse rx="1.76" ry="2.3040000000000003" fill="#a97f45"/></g><g transform="translate(251.8 1007) rotate(-15)"><ellipse rx="6.1" ry="7.7" fill="#1c4630"/><ellipse cx="-0.4" cy="-0.3" rx="5" ry="6.6" fill="#3c6a52"/></g><path d="M251.8 1007L257 1010.9" stroke="#2b5a41" stroke-width="14.4" stroke-linecap="butt" fill="none"/><path d="M251.8 1003.4L257 1007.3" stroke="#4d8063" stroke-width="2.6" stroke-linecap="butt" fill="none"/><g transform="translate(257 1010.9) rotate(-15)"><ellipse rx="5.5" ry="7.2" fill="#cfa565"/><ellipse rx="4.2" ry="5.6" fill="none" stroke="#e6c998" stroke-width="1.2"/><ellipse rx="1.76" ry="2.3040000000000003" fill="#a97f45"/></g><path d="M246 1015.7L348.5 1062.9" stroke="#234b36" stroke-width="3.9" stroke-linecap="butt" fill="none"/><path d="M246.2 1015.3L348.7 1062.5" stroke="#41715a" stroke-width="3" stroke-linecap="butt" fill="none"/><path d="M246.3 1015L348.8 1062.2" stroke="#8ab09c" stroke-width="1.2" stroke-linecap="butt" fill="none"/><path d="M257.4 1011.2L360.5 1058.7" stroke="#234b36" stroke-width="3.9" stroke-linecap="butt" fill="none"/><path d="M257.6 1010.8L360.7 1058.3" stroke="#41715a" stroke-width="3" stroke-linecap="butt" fill="none"/><path d="M257.7 1010.5L360.8 1058" stroke="#8ab09c" stroke-width="1.2" stroke-linecap="butt" fill="none"/><path d="M351.4 1070.2L250.5 1346" stroke="#2c5641" stroke-width="6.7" stroke-linecap="round" fill="none"/><path d="M352.7 1070.7L251.9 1346.5" stroke="#5b836c" stroke-width="2.9" stroke-linecap="round" fill="none"/><path d="M350 1069.7L249.1 1345.5" stroke="#23593c" stroke-width="2.9" stroke-linecap="round" fill="none"/><path d="M365.8 1070.2L424 1250" stroke="#3a6651" stroke-width="7.3" stroke-linecap="round" fill="none"/><path d="M367.9 1069.5L426.1 1249.3" stroke="#4a7660" stroke-width="1.9" stroke-linecap="round" fill="none"/><path d="M364.9 1070.5L423.1 1250.3" stroke="#6a937e" stroke-width="4.5" stroke-linecap="round" fill="none"/><rect x="421.6" y="1250.6" width="7.2" height="3" rx="1" fill="#4a7660"/><rect x="422" y="1253.4" width="6.4" height="2" rx="0.8" fill="#1d2f26"/><g transform="translate(349.2 1062.6) rotate(-15)"><ellipse rx="6.1" ry="7.7" fill="#1c4630"/><ellipse cx="-0.4" cy="-0.3" rx="5" ry="6.6" fill="#3c6a52"/></g><path d="M349.2 1062.6L354.4 1066.5" stroke="#2b5a41" stroke-width="14.4" stroke-linecap="butt" fill="none"/><path d="M349.2 1059L354.4 1062.9" stroke="#4d8063" stroke-width="2.6" stroke-linecap="butt" fill="none"/><g transform="translate(354.4 1066.5) rotate(-15)"><ellipse rx="5.5" ry="7.2" fill="#cfa565"/><ellipse rx="4.2" ry="5.6" fill="none" stroke="#e6c998" stroke-width="1.2"/><ellipse rx="1.76" ry="2.3040000000000003" fill="#a97f45"/></g><g transform="translate(361.1 1058.3) rotate(-15)"><ellipse rx="6.1" ry="7.7" fill="#1c4630"/><ellipse cx="-0.4" cy="-0.3" rx="5" ry="6.6" fill="#3c6a52"/></g><path d="M361.1 1058.3L366.3 1062.2" stroke="#2b5a41" stroke-width="14.4" stroke-linecap="butt" fill="none"/><path d="M361.1 1054.7L366.3 1058.6" stroke="#4d8063" stroke-width="2.6" stroke-linecap="butt" fill="none"/><g transform="translate(366.3 1062.2) rotate(-15)"><ellipse rx="5.5" ry="7.2" fill="#cfa565"/><ellipse rx="4.2" ry="5.6" fill="none" stroke="#e6c998" stroke-width="1.2"/><ellipse rx="1.76" ry="2.3040000000000003" fill="#a97f45"/></g><g transform="translate(55.7 1096.5) rotate(0) scale(1.12)"><path d="M-2 1.7a2 2.1 0 0 1 4 0v3.1l1.4 2.3-.6 4.7-1.6 1.6h-2.4l-1.6-1.4-.6-4.8 1.4-2.4z" fill="#2f4239"/><ellipse cx="0" cy="1.8" rx=".9" ry="1.1" fill="#f2f5f3"/><path d="M-.7 4.4h1.2v2.2h-1.2z" fill="#a9b5af"/><path d="M-1.3 8.6l1.1-.4 1.5.5-.3 3-.8.7h-1z" fill="#9aa8a1"/><path d="M.4 8.6l.9.3-.3 2.6-.6.6z" fill="#e9eeeb"/></g><g transform="translate(66.8 1104.5) rotate(0) scale(1.12)"><path d="M-2 1.7a2 2.1 0 0 1 4 0v3.1l1.4 2.3-.6 4.7-1.6 1.6h-2.4l-1.6-1.4-.6-4.8 1.4-2.4z" fill="#2f4239"/><ellipse cx="0" cy="1.8" rx=".9" ry="1.1" fill="#f2f5f3"/><path d="M-.7 4.4h1.2v2.2h-1.2z" fill="#a9b5af"/><path d="M-1.3 8.6l1.1-.4 1.5.5-.3 3-.8.7h-1z" fill="#9aa8a1"/><path d="M.4 8.6l.9.3-.3 2.6-.6.6z" fill="#e9eeeb"/></g><g transform="translate(77 1113.5) rotate(0) scale(1.12)"><path d="M-2 1.7a2 2.1 0 0 1 4 0v3.1l1.4 2.3-.6 4.7-1.6 1.6h-2.4l-1.6-1.4-.6-4.8 1.4-2.4z" fill="#2f4239"/><ellipse cx="0" cy="1.8" rx=".9" ry="1.1" fill="#f2f5f3"/><path d="M-.7 4.4h1.2v2.2h-1.2z" fill="#a9b5af"/><path d="M-1.3 8.6l1.1-.4 1.5.5-.3 3-.8.7h-1z" fill="#9aa8a1"/><path d="M.4 8.6l.9.3-.3 2.6-.6.6z" fill="#e9eeeb"/></g><g transform="translate(88.5 1123.5) rotate(0) scale(1.12)"><path d="M-2 1.7a2 2.1 0 0 1 4 0v3.1l1.4 2.3-.6 4.7-1.6 1.6h-2.4l-1.6-1.4-.6-4.8 1.4-2.4z" fill="#2f4239"/><ellipse cx="0" cy="1.8" rx=".9" ry="1.1" fill="#f2f5f3"/><path d="M-.7 4.4h1.2v2.2h-1.2z" fill="#a9b5af"/><path d="M-1.3 8.6l1.1-.4 1.5.5-.3 3-.8.7h-1z" fill="#9aa8a1"/><path d="M.4 8.6l.9.3-.3 2.6-.6.6z" fill="#e9eeeb"/></g><g transform="translate(100.7 1134.5) rotate(0) scale(1.12)"><path d="M-2 1.7a2 2.1 0 0 1 4 0v3.1l1.4 2.3-.6 4.7-1.6 1.6h-2.4l-1.6-1.4-.6-4.8 1.4-2.4z" fill="#2f4239"/><ellipse cx="0" cy="1.8" rx=".9" ry="1.1" fill="#f2f5f3"/><path d="M-.7 4.4h1.2v2.2h-1.2z" fill="#a9b5af"/><path d="M-1.3 8.6l1.1-.4 1.5.5-.3 3-.8.7h-1z" fill="#9aa8a1"/><path d="M.4 8.6l.9.3-.3 2.6-.6.6z" fill="#e9eeeb"/></g><g transform="translate(423.5 985) rotate(0) scale(0.95)"><path d="M-2 1.7a2 2.1 0 0 1 4 0v3.1l1.4 2.3-.6 4.7-1.6 1.6h-2.4l-1.6-1.4-.6-4.8 1.4-2.4z" fill="#2f4239"/><ellipse cx="0" cy="1.8" rx=".9" ry="1.1" fill="#f2f5f3"/><path d="M-.7 4.4h1.2v2.2h-1.2z" fill="#a9b5af"/><path d="M-1.3 8.6l1.1-.4 1.5.5-.3 3-.8.7h-1z" fill="#9aa8a1"/><path d="M.4 8.6l.9.3-.3 2.6-.6.6z" fill="#e9eeeb"/></g><g transform="translate(437.5 989) rotate(0) scale(0.95)"><path d="M-2 1.7a2 2.1 0 0 1 4 0v3.1l1.4 2.3-.6 4.7-1.6 1.6h-2.4l-1.6-1.4-.6-4.8 1.4-2.4z" fill="#2f4239"/><ellipse cx="0" cy="1.8" rx=".9" ry="1.1" fill="#f2f5f3"/><path d="M-.7 4.4h1.2v2.2h-1.2z" fill="#a9b5af"/><path d="M-1.3 8.6l1.1-.4 1.5.5-.3 3-.8.7h-1z" fill="#9aa8a1"/><path d="M.4 8.6l.9.3-.3 2.6-.6.6z" fill="#e9eeeb"/></g><g transform="translate(450.6 993) rotate(0) scale(0.95)"><path d="M-2 1.7a2 2.1 0 0 1 4 0v3.1l1.4 2.3-.6 4.7-1.6 1.6h-2.4l-1.6-1.4-.6-4.8 1.4-2.4z" fill="#2f4239"/><ellipse cx="0" cy="1.8" rx=".9" ry="1.1" fill="#f2f5f3"/><path d="M-.7 4.4h1.2v2.2h-1.2z" fill="#a9b5af"/><path d="M-1.3 8.6l1.1-.4 1.5.5-.3 3-.8.7h-1z" fill="#9aa8a1"/><path d="M.4 8.6l.9.3-.3 2.6-.6.6z" fill="#e9eeeb"/></g><g transform="translate(464.6 997) rotate(0) scale(0.95)"><path d="M-2 1.7a2 2.1 0 0 1 4 0v3.1l1.4 2.3-.6 4.7-1.6 1.6h-2.4l-1.6-1.4-.6-4.8 1.4-2.4z" fill="#2f4239"/><ellipse cx="0" cy="1.8" rx=".9" ry="1.1" fill="#f2f5f3"/><path d="M-.7 4.4h1.2v2.2h-1.2z" fill="#a9b5af"/><path d="M-1.3 8.6l1.1-.4 1.5.5-.3 3-.8.7h-1z" fill="#9aa8a1"/><path d="M.4 8.6l.9.3-.3 2.6-.6.6z" fill="#e9eeeb"/></g><g transform="translate(479.2 1001) rotate(0) scale(0.95)"><path d="M-2 1.7a2 2.1 0 0 1 4 0v3.1l1.4 2.3-.6 4.7-1.6 1.6h-2.4l-1.6-1.4-.6-4.8 1.4-2.4z" fill="#2f4239"/><ellipse cx="0" cy="1.8" rx=".9" ry="1.1" fill="#f2f5f3"/><path d="M-.7 4.4h1.2v2.2h-1.2z" fill="#a9b5af"/><path d="M-1.3 8.6l1.1-.4 1.5.5-.3 3-.8.7h-1z" fill="#9aa8a1"/><path d="M.4 8.6l.9.3-.3 2.6-.6.6z" fill="#e9eeeb"/></g></g>
<path d="M28.6 1055.9L396.2 955.7" stroke="#3a5e4d" stroke-width="1.1" stroke-linecap="butt" fill="none"/>
<circle cx="28.6" cy="1055.9" r="3.7" fill="#3a5e4d"/>
<circle cx="396.2" cy="955.7" r="3.7" fill="#3a5e4d"/>
<path d="M16.2 1089.2L83.4 1149" stroke="#3a5e4d" stroke-width="1.1" stroke-linecap="butt" fill="none"/>
<circle cx="16.2" cy="1089.2" r="3.7" fill="#3a5e4d"/>
<circle cx="83.4" cy="1149" r="3.7" fill="#3a5e4d"/>
<path d="M335.6 1068L335.6 1320.5" stroke="#3a5e4d" stroke-width="1.1" stroke-linecap="butt" fill="none"/>
<circle cx="335.6" cy="1320.5" r="3.7" fill="#3a5e4d"/>
<text x="159.6" y="1006.3" font-family="'Liberation Sans','Noto Sans CJK SC',sans-serif" font-size="19.5" fill="#3b5b4b" textLength="97" lengthAdjust="spacingAndGlyphs" transform="rotate(-15.7 159.6 1006.3)">总长160cm</text>
<text x="10.5" y="1171" font-family="'Liberation Sans','Noto Sans CJK SC',sans-serif" font-size="19.5" fill="#3b5b4b" textLength="91" lengthAdjust="spacingAndGlyphs">杆宽54cm</text>
<text x="345.5" y="1314.3" font-family="'Liberation Sans','Noto Sans CJK SC',sans-serif" font-size="19.5" fill="#3b5b4b" textLength="99" lengthAdjust="spacingAndGlyphs">高度103cm</text>
<g><path d="M703.3 420L707.2 632" stroke="#1b3b2c" stroke-width="6" fill="none" stroke-linejoin="round" stroke-linecap="butt"/><path d="M703.3 420L707.2 632" stroke="#2e5d47" stroke-width="4.2" fill="none" stroke-linejoin="round" stroke-linecap="butt" transform="translate(-0.35 -0.45)"/><path d="M703.3 420L707.2 632" stroke="#4f836b" stroke-width="1.2" fill="none" stroke-linejoin="round" stroke-linecap="butt" transform="translate(-0.9 -0.9)"/><rect x="702.6" y="628" width="9" height="13" rx="2.6" fill="#345646"/><circle cx="704.6" cy="643.2" r="2.8" fill="#17241d"/><path d="M576 385L578.5 500L581 622" stroke="#1b3b2c" stroke-width="4.6" fill="none" stroke-linejoin="round" stroke-linecap="butt"/><path d="M576 385L578.5 500L581 622" stroke="#2e5d47" stroke-width="3" fill="none" stroke-linejoin="round" stroke-linecap="butt" transform="translate(-0.35 -0.45)"/><path d="M581.7 385L598 566" stroke="#1b3b2c" stroke-width="5.2" fill="none" stroke-linejoin="round" stroke-linecap="butt"/><path d="M581.7 385L598 566" stroke="#2e5d47" stroke-width="3.6" fill="none" stroke-linejoin="round" stroke-linecap="butt" transform="translate(-0.35 -0.45)"/><path d="M581.7 385L598 566" stroke="#4f836b" stroke-width="1" fill="none" stroke-linejoin="round" stroke-linecap="butt" transform="translate(-0.9 -0.9)"/><path d="M586.8 405L680.1 433.7" stroke="#2f6049" stroke-width="1.7" stroke-linecap="butt" fill="none"/><path d="M588.9 433.5L678.6 463.4" stroke="#2f6049" stroke-width="1.7" stroke-linecap="butt" fill="none"/><path d="M590.8 461L677.2 491.9" stroke="#2f6049" stroke-width="1.7" stroke-linecap="butt" fill="none"/><path d="M591.2 466.5L676.9 497.6" stroke="#2f6049" stroke-width="1.7" stroke-linecap="butt" fill="none"/><path d="M592.8 488L675.8 519.7" stroke="#2f6049" stroke-width="1.7" stroke-linecap="butt" fill="none"/><path d="M593.2 493.5L675.5 525.4" stroke="#2f6049" stroke-width="1.7" stroke-linecap="butt" fill="none"/><path d="M594.5 512L674.6 544.3" stroke="#2f6049" stroke-width="1.7" stroke-linecap="butt" fill="none"/><path d="M594.9 517.5L674.3 549.9" stroke="#2f6049" stroke-width="1.7" stroke-linecap="butt" fill="none"/><path d="M596.2 535L673.4 567.8" stroke="#2f6049" stroke-width="1.7" stroke-linecap="butt" fill="none"/><path d="M596.6 540.5L673.1 573.4" stroke="#2f6049" stroke-width="1.7" stroke-linecap="butt" fill="none"/><path d="M597.7 556L672.3 589.1" stroke="#2f6049" stroke-width="1.7" stroke-linecap="butt" fill="none"/><path d="M598.1 561.5L672.1 594.7" stroke="#2f6049" stroke-width="1.7" stroke-linecap="butt" fill="none"/><path d="M597.5 560L599 583Q600 594 610.9 599.5L668 626.5Q680.6 632 681.2 620L684.5 560L689.3 424" stroke="#1b3b2c" stroke-width="5.8" fill="none" stroke-linejoin="round" stroke-linecap="butt"/><path d="M597.5 560L599 583Q600 594 610.9 599.5L668 626.5Q680.6 632 681.2 620L684.5 560L689.3 424" stroke="#2e5d47" stroke-width="3.8" fill="none" stroke-linejoin="round" stroke-linecap="butt" transform="translate(-0.35 -0.45)"/><path d="M597.5 560L599 583Q600 594 610.9 599.5L668 626.5Q680.6 632 681.2 620L684.5 560L689.3 424" stroke="#4f836b" stroke-width="1" fill="none" stroke-linejoin="round" stroke-linecap="butt" transform="translate(-0.9 -0.9)"/><path d="M694.9 424L697.6 424L700 713L694.8 713Z" fill="#1b3b2c"/><path d="M689.2 424L694.9 424L694.8 714L685.7 714Z" fill="#2e5d47"/><path d="M689.6 424L691.3 424L688.6 714L686.2 714Z" fill="#4f836b" opacity=".75"/><path d="M570 641L692 692.5" stroke="#2f6049" stroke-width="3.8" stroke-linecap="butt" fill="none"/><path d="M572 648L691 699.5" stroke="#2f6049" stroke-width="2" stroke-linecap="butt" fill="none"/><path d="M578 659L690 708.5" stroke="#2f6049" stroke-width="2.2" stroke-linecap="butt" fill="none"/><path d="M575 653.5L690 704" stroke="#2f6049" stroke-width="1.3" stroke-linecap="butt" fill="none"/><path d="M596.5 675V636C596.5 628 603.5 630 603.5 639V684" stroke="#28523e" stroke-width="1.4" fill="none"/><path d="M607 681V645C607 637 613.5 639 613.5 648V689" stroke="#28523e" stroke-width="1.4" fill="none"/><path d="M649.5 707V669C649.5 661 654.5 663 654.5 672V712" stroke="#28523e" stroke-width="1.4" fill="none"/><path d="M662 712V675C662 667 667 669 667 678V718" stroke="#28523e" stroke-width="1.4" fill="none"/><path d="M590 636c2-9 11-11 15-4M598 639c3-9 12-9 15 0" stroke="#28523e" stroke-width="1.4" fill="none"/><path d="M647 665c2-8 10-10 14-3M654 668c3-8 11-8 14 1" stroke="#28523e" stroke-width="1.4" fill="none"/><rect x="675" y="701" width="2.8" height="12" fill="#1b3b2c"/><rect x="680" y="699" width="2.8" height="14" fill="#1b3b2c"/><path d="M573.3 636L573.3 657Q574 670 586.5 675.3L686 725.5Q693.5 729 693.2 715" stroke="#1b3b2c" stroke-width="7.8" fill="none" stroke-linejoin="round" stroke-linecap="butt"/><path d="M573.3 636L573.3 657Q574 670 586.5 675.3L686 725.5Q693.5 729 693.2 715" stroke="#2e5d47" stroke-width="5.2" fill="none" stroke-linejoin="round" stroke-linecap="butt" transform="translate(-0.35 -0.45)"/><path d="M573.3 636L573.3 657Q574 670 586.5 675.3L686 725.5Q693.5 729 693.2 715" stroke="#4f836b" stroke-width="1.3" fill="none" stroke-linejoin="round" stroke-linecap="butt" transform="translate(-0.9 -0.9)"/><rect x="568.6" y="640" width="9.4" height="9" rx="1.5" fill="#345646"/><rect x="685.4" y="710" width="14.8" height="7" rx="1.2" fill="#345646"/><path d="M568.5 408L680.7 442.8" stroke="#2f6049" stroke-width="2.8" stroke-linecap="butt" fill="none"/><path d="M568.5 407.3L680.7 442.1" stroke="#4f836b" stroke-width="0.9" stroke-linecap="butt" fill="none" opacity="0.6"/><path d="M567.7 437.3L679.1 474.8" stroke="#2f6049" stroke-width="2.8" stroke-linecap="butt" fill="none"/><path d="M567.7 436.6L679.1 474.1" stroke="#4f836b" stroke-width="0.9" stroke-linecap="butt" fill="none" opacity="0.6"/><path d="M566.8 467.4L677.4 507.6" stroke="#2f6049" stroke-width="2.8" stroke-linecap="butt" fill="none"/><path d="M566.8 466.7L677.4 506.9" stroke="#4f836b" stroke-width="0.9" stroke-linecap="butt" fill="none" opacity="0.6"/><path d="M566 496.2L675.8 539" stroke="#2f6049" stroke-width="2.8" stroke-linecap="butt" fill="none"/><path d="M566 495.5L675.8 538.3" stroke="#4f836b" stroke-width="0.9" stroke-linecap="butt" fill="none" opacity="0.6"/><path d="M565.2 525L674.3 570.3" stroke="#2f6049" stroke-width="2.8" stroke-linecap="butt" fill="none"/><path d="M565.2 524.3L674.3 569.6" stroke="#4f836b" stroke-width="0.9" stroke-linecap="butt" fill="none" opacity="0.6"/><path d="M564.5 551.4L672.8 599" stroke="#2f6049" stroke-width="2.8" stroke-linecap="butt" fill="none"/><path d="M564.5 550.7L672.8 598.3" stroke="#4f836b" stroke-width="0.9" stroke-linecap="butt" fill="none" opacity="0.6"/><path d="M563.7 578.6L671.4 628.5" stroke="#2f6049" stroke-width="2.8" stroke-linecap="butt" fill="none"/><path d="M563.7 577.9L671.4 627.8" stroke="#4f836b" stroke-width="0.9" stroke-linecap="butt" fill="none" opacity="0.6"/><path d="M683.7 421L676.6 570L672 640" stroke="#1b3b2c" stroke-width="6" fill="none" stroke-linejoin="round" stroke-linecap="butt"/><path d="M683.7 421L676.6 570L672 640" stroke="#2e5d47" stroke-width="4.2" fill="none" stroke-linejoin="round" stroke-linecap="butt" transform="translate(-0.35 -0.45)"/><path d="M683.7 421L676.6 570L672 640" stroke="#4f836b" stroke-width="1.2" fill="none" stroke-linejoin="round" stroke-linecap="butt" transform="translate(-0.9 -0.9)"/><path d="M567 386L569.8 500L573.3 640" stroke="#1b3b2c" stroke-width="4.4" fill="none" stroke-linejoin="round" stroke-linecap="butt"/><path d="M567 386L569.8 500L573.3 640" stroke="#3a6e56" stroke-width="3" fill="none" stroke-linejoin="round" stroke-linecap="butt" transform="translate(-0.35 -0.45)"/><path d="M567 386L569.8 500L573.3 640" stroke="#4f836b" stroke-width="0.9" fill="none" stroke-linejoin="round" stroke-linecap="butt" transform="translate(-0.9 -0.9)"/><path d="M563.8 384L564.4 500L562 540L559.4 598Q558.6 614 570.3 619.6L661 666.5Q670.6 670 671.3 655L672 636" stroke="#1b3b2c" stroke-width="6.6" fill="none" stroke-linejoin="round" stroke-linecap="butt"/><path d="M563.8 384L564.4 500L562 540L559.4 598Q558.6 614 570.3 619.6L661 666.5Q670.6 670 671.3 655L672 636" stroke="#2e5d47" stroke-width="4.4" fill="none" stroke-linejoin="round" stroke-linecap="butt" transform="translate(-0.35 -0.45)"/><path d="M563.8 384L564.4 500L562 540L559.4 598Q558.6 614 570.3 619.6L661 666.5Q670.6 670 671.3 655L672 636" stroke="#4f836b" stroke-width="1.2" fill="none" stroke-linejoin="round" stroke-linecap="butt" transform="translate(-0.9 -0.9)"/><rect x="555.6" y="595" width="8" height="7.4" rx="1.2" fill="#345646"/><rect x="566.8" y="616.6" width="7.4" height="8" rx="1.2" fill="#345646" transform="rotate(25 570.5 620.6)"/><rect x="667.4" y="646" width="8" height="7.4" rx="1.2" fill="#345646"/><g transform="translate(615 606.5) rotate(-20) scale(1.0)"><path d="M-3.4 0l2.4 .3 .8 2 .9-2 2.5-.2-.6 6.4-1.6 6.6h-2l-1.8-6.6z" fill="#31463c"/><path d="M-1.9 1.8l.9 3.6M1.7 1.6l-.8 3.8" stroke="#aebab4" stroke-width=".6" fill="none"/><path d="M-.4 7.4h1.1l-.3 4.6h-.5z" fill="#8d9c94"/></g><g transform="translate(629 613.5) rotate(-20) scale(1.0)"><path d="M-3.4 0l2.4 .3 .8 2 .9-2 2.5-.2-.6 6.4-1.6 6.6h-2l-1.8-6.6z" fill="#31463c"/><path d="M-1.9 1.8l.9 3.6M1.7 1.6l-.8 3.8" stroke="#aebab4" stroke-width=".6" fill="none"/><path d="M-.4 7.4h1.1l-.3 4.6h-.5z" fill="#8d9c94"/></g><g transform="translate(643 620.5) rotate(-20) scale(1.0)"><path d="M-3.4 0l2.4 .3 .8 2 .9-2 2.5-.2-.6 6.4-1.6 6.6h-2l-1.8-6.6z" fill="#31463c"/><path d="M-1.9 1.8l.9 3.6M1.7 1.6l-.8 3.8" stroke="#aebab4" stroke-width=".6" fill="none"/><path d="M-.4 7.4h1.1l-.3 4.6h-.5z" fill="#8d9c94"/></g><g transform="translate(657.5 627.5) rotate(-20) scale(1.0)"><path d="M-3.4 0l2.4 .3 .8 2 .9-2 2.5-.2-.6 6.4-1.6 6.6h-2l-1.8-6.6z" fill="#31463c"/><path d="M-1.9 1.8l.9 3.6M1.7 1.6l-.8 3.8" stroke="#aebab4" stroke-width=".6" fill="none"/><path d="M-.4 7.4h1.1l-.3 4.6h-.5z" fill="#8d9c94"/></g><g transform="translate(674.5 636) rotate(-20) scale(1.0)"><path d="M-3.4 0l2.4 .3 .8 2 .9-2 2.5-.2-.6 6.4-1.6 6.6h-2l-1.8-6.6z" fill="#31463c"/><path d="M-1.9 1.8l.9 3.6M1.7 1.6l-.8 3.8" stroke="#aebab4" stroke-width=".6" fill="none"/><path d="M-.4 7.4h1.1l-.3 4.6h-.5z" fill="#8d9c94"/></g><path d="M574.7 371.6L583 375.8" stroke="#1b3b2c" stroke-width="13.6" stroke-linecap="butt" fill="none"/><path d="M574.7 370L583 374.2" stroke="#2e5d47" stroke-width="7.6" stroke-linecap="butt" fill="none"/><ellipse cx="574.7" cy="371.6" rx="5.6" ry="6.9" fill="#345646" transform="rotate(-12 574.7 371.6)"/><ellipse cx="574.2" cy="371.0" rx="4.2" ry="5.4" fill="#3d6b56" transform="rotate(-12 574.7 371.6)"/><ellipse cx="583" cy="375.8" rx="4.1" ry="7.4" fill="#d6b479" transform="rotate(-12 583 375.8)"/><ellipse cx="582.2" cy="375.8" rx="2.4" ry="6.2" fill="#e6cb9a" transform="rotate(-12 583 375.8)"/><path d="M562.3 377.7L571.6 380.3" stroke="#1b3b2c" stroke-width="13.6" stroke-linecap="butt" fill="none"/><path d="M562.3 376.1L571.6 378.7" stroke="#2e5d47" stroke-width="7.6" stroke-linecap="butt" fill="none"/><ellipse cx="562.3" cy="377.7" rx="5.6" ry="6.9" fill="#345646" transform="rotate(-12 562.3 377.7)"/><ellipse cx="561.8" cy="377.09999999999997" rx="4.2" ry="5.4" fill="#3d6b56" transform="rotate(-12 562.3 377.7)"/><ellipse cx="571.6" cy="380.3" rx="4.1" ry="7.4" fill="#d6b479" transform="rotate(-12 571.6 380.3)"/><ellipse cx="570.8000000000001" cy="380.3" rx="2.4" ry="6.2" fill="#e6cb9a" transform="rotate(-12 571.6 380.3)"/><path d="M572.5 380.4L682 412.8" stroke="#234a37" stroke-width="6.2" fill="none" stroke-linejoin="round" stroke-linecap="butt"/><path d="M572.5 380.4L682 412.8" stroke="#44735c" stroke-width="5" fill="none" stroke-linejoin="round" stroke-linecap="butt" transform="translate(-0.35 -0.45)"/><path d="M572.5 380.4L682 412.8" stroke="#9dbfad" stroke-width="1.4" fill="none" stroke-linejoin="round" stroke-linecap="butt" transform="translate(-0.9 -0.9)"/><path d="M584 375.8L692 405.4" stroke="#234a37" stroke-width="6.2" fill="none" stroke-linejoin="round" stroke-linecap="butt"/><path d="M584 375.8L692 405.4" stroke="#44735c" stroke-width="5" fill="none" stroke-linejoin="round" stroke-linecap="butt" transform="translate(-0.35 -0.45)"/><path d="M584 375.8L692 405.4" stroke="#9dbfad" stroke-width="1.4" fill="none" stroke-linejoin="round" stroke-linecap="butt" transform="translate(-0.9 -0.9)"/><path d="M697 406L706.8 412.8" stroke="#1b3b2c" stroke-width="15" stroke-linecap="butt" fill="none"/><path d="M697 404.5L706.8 411.3" stroke="#2e5d47" stroke-width="9.5" stroke-linecap="butt" fill="none"/><path d="M697 401.6L706.8 408.4" stroke="#4f836b" stroke-width="2.4" stroke-linecap="butt" fill="none"/><ellipse cx="697" cy="406" rx="5.2" ry="7.5" fill="#2e5d47" transform="rotate(-15 697 406)"/><g transform="translate(706.8 412.8) rotate(-14)"><ellipse rx="5.3" ry="7.5" fill="#cfa565"/><ellipse rx="4.0" ry="5.9" fill="none" stroke="#e6c998" stroke-width="1.2"/><ellipse rx="1.696" ry="2.4" fill="#a97f45"/></g><path d="M685.5 410.5L696 416.4" stroke="#1b3b2c" stroke-width="15" stroke-linecap="butt" fill="none"/><path d="M685.5 409L696 414.9" stroke="#2e5d47" stroke-width="9.5" stroke-linecap="butt" fill="none"/><path d="M685.5 406.1L696 412" stroke="#4f836b" stroke-width="2.4" stroke-linecap="butt" fill="none"/><ellipse cx="685.5" cy="410.5" rx="5.2" ry="7.5" fill="#2e5d47" transform="rotate(-15 685.5 410.5)"/><g transform="translate(696 416.4) rotate(-14)"><ellipse rx="5.3" ry="7.5" fill="#cfa565"/><ellipse rx="4.0" ry="5.9" fill="none" stroke="#e6c998" stroke-width="1.2"/><ellipse rx="1.696" ry="2.4" fill="#a97f45"/></g></g>
<path d="M580.4 360.6L715.2 396.8" stroke="#3a5e4d" stroke-width="1.1" stroke-linecap="butt" fill="none"/>
<circle cx="580.4" cy="360.6" r="3.7" fill="#3a5e4d"/>
<circle cx="715.2" cy="396.8" r="3.7" fill="#3a5e4d"/>
<path d="M721.8 406.6L721.8 728" stroke="#3a5e4d" stroke-width="1.1" stroke-linecap="butt" fill="none"/>
<circle cx="721.9" cy="406.6" r="3.7" fill="#3a5e4d"/>
<circle cx="721.9" cy="728" r="3.7" fill="#3a5e4d"/>
<path d="M690 746.6L713.6 736.4" stroke="#3a5e4d" stroke-width="1.1" stroke-linecap="butt" fill="none"/>
<circle cx="690" cy="746.6" r="3.7" fill="#3a5e4d"/>
<circle cx="713.6" cy="736.4" r="3.7" fill="#3a5e4d"/>
<text x="630.1" y="360.9" font-family="'Liberation Sans','Noto Sans CJK SC',sans-serif" font-size="19.5" fill="#3b5b4b" textLength="90.5" lengthAdjust="spacingAndGlyphs" transform="rotate(-2.5 630.1 360.9)">总宽60cm</text>
<text x="737.5" y="579" font-family="'Liberation Sans','Noto Sans CJK SC',sans-serif" font-size="19" fill="#3b5b4b" textLength="37" lengthAdjust="spacingAndGlyphs">高度</text>
<text x="725.5" y="600.6" font-family="'Liberation Sans','Noto Sans CJK SC',sans-serif" font-size="19.5" fill="#3b5b4b" textLength="60" lengthAdjust="spacingAndGlyphs">120cm</text>
<text x="581.5" y="748.2" font-family="'Liberation Sans','Noto Sans CJK SC',sans-serif" font-size="19.5" fill="#3b5b4b" textLength="88" lengthAdjust="spacingAndGlyphs">厚度14cm</text>
<g transform="translate(0 597)"><path d="M703.3 420L707.2 632" stroke="#1b3b2c" stroke-width="6" fill="none" stroke-linejoin="round" stroke-linecap="butt"/><path d="M703.3 420L707.2 632" stroke="#2e5d47" stroke-width="4.2" fill="none" stroke-linejoin="round" stroke-linecap="butt" transform="translate(-0.35 -0.45)"/><path d="M703.3 420L707.2 632" stroke="#4f836b" stroke-width="1.2" fill="none" stroke-linejoin="round" stroke-linecap="butt" transform="translate(-0.9 -0.9)"/><rect x="702.6" y="628" width="9" height="13" rx="2.6" fill="#345646"/><circle cx="704.6" cy="643.2" r="2.8" fill="#17241d"/><path d="M576 385L578.5 500L581 622" stroke="#1b3b2c" stroke-width="4.6" fill="none" stroke-linejoin="round" stroke-linecap="butt"/><path d="M576 385L578.5 500L581 622" stroke="#2e5d47" stroke-width="3" fill="none" stroke-linejoin="round" stroke-linecap="butt" transform="translate(-0.35 -0.45)"/><path d="M581.7 385L598 566" stroke="#1b3b2c" stroke-width="5.2" fill="none" stroke-linejoin="round" stroke-linecap="butt"/><path d="M581.7 385L598 566" stroke="#2e5d47" stroke-width="3.6" fill="none" stroke-linejoin="round" stroke-linecap="butt" transform="translate(-0.35 -0.45)"/><path d="M581.7 385L598 566" stroke="#4f836b" stroke-width="1" fill="none" stroke-linejoin="round" stroke-linecap="butt" transform="translate(-0.9 -0.9)"/><path d="M586.8 405L680.1 433.7" stroke="#2f6049" stroke-width="1.7" stroke-linecap="butt" fill="none"/><path d="M588.9 433.5L678.6 463.4" stroke="#2f6049" stroke-width="1.7" stroke-linecap="butt" fill="none"/><path d="M590.8 461L677.2 491.9" stroke="#2f6049" stroke-width="1.7" stroke-linecap="butt" fill="none"/><path d="M591.2 466.5L676.9 497.6" stroke="#2f6049" stroke-width="1.7" stroke-linecap="butt" fill="none"/><path d="M592.8 488L675.8 519.7" stroke="#2f6049" stroke-width="1.7" stroke-linecap="butt" fill="none"/><path d="M593.2 493.5L675.5 525.4" stroke="#2f6049" stroke-width="1.7" stroke-linecap="butt" fill="none"/><path d="M594.5 512L674.6 544.3" stroke="#2f6049" stroke-width="1.7" stroke-linecap="butt" fill="none"/><path d="M594.9 517.5L674.3 549.9" stroke="#2f6049" stroke-width="1.7" stroke-linecap="butt" fill="none"/><path d="M596.2 535L673.4 567.8" stroke="#2f6049" stroke-width="1.7" stroke-linecap="butt" fill="none"/><path d="M596.6 540.5L673.1 573.4" stroke="#2f6049" stroke-width="1.7" stroke-linecap="butt" fill="none"/><path d="M597.7 556L672.3 589.1" stroke="#2f6049" stroke-width="1.7" stroke-linecap="butt" fill="none"/><path d="M598.1 561.5L672.1 594.7" stroke="#2f6049" stroke-width="1.7" stroke-linecap="butt" fill="none"/><path d="M597.5 560L599 583Q600 594 610.9 599.5L668 626.5Q680.6 632 681.2 620L684.5 560L689.3 424" stroke="#1b3b2c" stroke-width="5.8" fill="none" stroke-linejoin="round" stroke-linecap="butt"/><path d="M597.5 560L599 583Q600 594 610.9 599.5L668 626.5Q680.6 632 681.2 620L684.5 560L689.3 424" stroke="#2e5d47" stroke-width="3.8" fill="none" stroke-linejoin="round" stroke-linecap="butt" transform="translate(-0.35 -0.45)"/><path d="M597.5 560L599 583Q600 594 610.9 599.5L668 626.5Q680.6 632 681.2 620L684.5 560L689.3 424" stroke="#4f836b" stroke-width="1" fill="none" stroke-linejoin="round" stroke-linecap="butt" transform="translate(-0.9 -0.9)"/><path d="M694.9 424L697.6 424L700 713L694.8 713Z" fill="#1b3b2c"/><path d="M689.2 424L694.9 424L694.8 714L685.7 714Z" fill="#2e5d47"/><path d="M689.6 424L691.3 424L688.6 714L686.2 714Z" fill="#4f836b" opacity=".75"/><path d="M570 641L692 692.5" stroke="#2f6049" stroke-width="3.8" stroke-linecap="butt" fill="none"/><path d="M572 648L691 699.5" stroke="#2f6049" stroke-width="2" stroke-linecap="butt" fill="none"/><path d="M578 659L690 708.5" stroke="#2f6049" stroke-width="2.2" stroke-linecap="butt" fill="none"/><path d="M575 653.5L690 704" stroke="#2f6049" stroke-width="1.3" stroke-linecap="butt" fill="none"/><path d="M596.5 675V636C596.5 628 603.5 630 603.5 639V684" stroke="#28523e" stroke-width="1.4" fill="none"/><path d="M607 681V645C607 637 613.5 639 613.5 648V689" stroke="#28523e" stroke-width="1.4" fill="none"/><path d="M649.5 707V669C649.5 661 654.5 663 654.5 672V712" stroke="#28523e" stroke-width="1.4" fill="none"/><path d="M662 712V675C662 667 667 669 667 678V718" stroke="#28523e" stroke-width="1.4" fill="none"/><path d="M590 636c2-9 11-11 15-4M598 639c3-9 12-9 15 0" stroke="#28523e" stroke-width="1.4" fill="none"/><path d="M647 665c2-8 10-10 14-3M654 668c3-8 11-8 14 1" stroke="#28523e" stroke-width="1.4" fill="none"/><rect x="675" y="701" width="2.8" height="12" fill="#1b3b2c"/><rect x="680" y="699" width="2.8" height="14" fill="#1b3b2c"/><path d="M573.3 636L573.3 657Q574 670 586.5 675.3L686 725.5Q693.5 729 693.2 715" stroke="#1b3b2c" stroke-width="7.8" fill="none" stroke-linejoin="round" stroke-linecap="butt"/><path d="M573.3 636L573.3 657Q574 670 586.5 675.3L686 725.5Q693.5 729 693.2 715" stroke="#2e5d47" stroke-width="5.2" fill="none" stroke-linejoin="round" stroke-linecap="butt" transform="translate(-0.35 -0.45)"/><path d="M573.3 636L573.3 657Q574 670 586.5 675.3L686 725.5Q693.5 729 693.2 715" stroke="#4f836b" stroke-width="1.3" fill="none" stroke-linejoin="round" stroke-linecap="butt" transform="translate(-0.9 -0.9)"/><rect x="568.6" y="640" width="9.4" height="9" rx="1.5" fill="#345646"/><rect x="685.4" y="710" width="14.8" height="7" rx="1.2" fill="#345646"/><path d="M568.5 408L680.7 442.8" stroke="#2f6049" stroke-width="2.8" stroke-linecap="butt" fill="none"/><path d="M568.5 407.3L680.7 442.1" stroke="#4f836b" stroke-width="0.9" stroke-linecap="butt" fill="none" opacity="0.6"/><path d="M567.7 437.3L679.1 474.8" stroke="#2f6049" stroke-width="2.8" stroke-linecap="butt" fill="none"/><path d="M567.7 436.6L679.1 474.1" stroke="#4f836b" stroke-width="0.9" stroke-linecap="butt" fill="none" opacity="0.6"/><path d="M566.8 467.4L677.4 507.6" stroke="#2f6049" stroke-width="2.8" stroke-linecap="butt" fill="none"/><path d="M566.8 466.7L677.4 506.9" stroke="#4f836b" stroke-width="0.9" stroke-linecap="butt" fill="none" opacity="0.6"/><path d="M566 496.2L675.8 539" stroke="#2f6049" stroke-width="2.8" stroke-linecap="butt" fill="none"/><path d="M566 495.5L675.8 538.3" stroke="#4f836b" stroke-width="0.9" stroke-linecap="butt" fill="none" opacity="0.6"/><path d="M565.2 525L674.3 570.3" stroke="#2f6049" stroke-width="2.8" stroke-linecap="butt" fill="none"/><path d="M565.2 524.3L674.3 569.6" stroke="#4f836b" stroke-width="0.9" stroke-linecap="butt" fill="none" opacity="0.6"/><path d="M564.5 551.4L672.8 599" stroke="#2f6049" stroke-width="2.8" stroke-linecap="butt" fill="none"/><path d="M564.5 550.7L672.8 598.3" stroke="#4f836b" stroke-width="0.9" stroke-linecap="butt" fill="none" opacity="0.6"/><path d="M563.7 578.6L671.4 628.5" stroke="#2f6049" stroke-width="2.8" stroke-linecap="butt" fill="none"/><path d="M563.7 577.9L671.4 627.8" stroke="#4f836b" stroke-width="0.9" stroke-linecap="butt" fill="none" opacity="0.6"/><path d="M683.7 421L676.6 570L672 640" stroke="#1b3b2c" stroke-width="6" fill="none" stroke-linejoin="round" stroke-linecap="butt"/><path d="M683.7 421L676.6 570L672 640" stroke="#2e5d47" stroke-width="4.2" fill="none" stroke-linejoin="round" stroke-linecap="butt" transform="translate(-0.35 -0.45)"/><path d="M683.7 421L676.6 570L672 640" stroke="#4f836b" stroke-width="1.2" fill="none" stroke-linejoin="round" stroke-linecap="butt" transform="translate(-0.9 -0.9)"/><path d="M567 386L569.8 500L573.3 640" stroke="#1b3b2c" stroke-width="4.4" fill="none" stroke-linejoin="round" stroke-linecap="butt"/><path d="M567 386L569.8 500L573.3 640" stroke="#3a6e56" stroke-width="3" fill="none" stroke-linejoin="round" stroke-linecap="butt" transform="translate(-0.35 -0.45)"/><path d="M567 386L569.8 500L573.3 640" stroke="#4f836b" stroke-width="0.9" fill="none" stroke-linejoin="round" stroke-linecap="butt" transform="translate(-0.9 -0.9)"/><path d="M563.8 384L564.4 500L562 540L559.4 598Q558.6 614 570.3 619.6L661 666.5Q670.6 670 671.3 655L672 636" stroke="#1b3b2c" stroke-width="6.6" fill="none" stroke-linejoin="round" stroke-linecap="butt"/><path d="M563.8 384L564.4 500L562 540L559.4 598Q558.6 614 570.3 619.6L661 666.5Q670.6 670 671.3 655L672 636" stroke="#2e5d47" stroke-width="4.4" fill="none" stroke-linejoin="round" stroke-linecap="butt" transform="translate(-0.35 -0.45)"/><path d="M563.8 384L564.4 500L562 540L559.4 598Q558.6 614 570.3 619.6L661 666.5Q670.6 670 671.3 655L672 636" stroke="#4f836b" stroke-width="1.2" fill="none" stroke-linejoin="round" stroke-linecap="butt" transform="translate(-0.9 -0.9)"/><rect x="555.6" y="595" width="8" height="7.4" rx="1.2" fill="#345646"/><rect x="566.8" y="616.6" width="7.4" height="8" rx="1.2" fill="#345646" transform="rotate(25 570.5 620.6)"/><rect x="667.4" y="646" width="8" height="7.4" rx="1.2" fill="#345646"/><g transform="translate(615 606.5) rotate(-20) scale(1.0)"><path d="M-3.4 0l2.4 .3 .8 2 .9-2 2.5-.2-.6 6.4-1.6 6.6h-2l-1.8-6.6z" fill="#31463c"/><path d="M-1.9 1.8l.9 3.6M1.7 1.6l-.8 3.8" stroke="#aebab4" stroke-width=".6" fill="none"/><path d="M-.4 7.4h1.1l-.3 4.6h-.5z" fill="#8d9c94"/></g><g transform="translate(629 613.5) rotate(-20) scale(1.0)"><path d="M-3.4 0l2.4 .3 .8 2 .9-2 2.5-.2-.6 6.4-1.6 6.6h-2l-1.8-6.6z" fill="#31463c"/><path d="M-1.9 1.8l.9 3.6M1.7 1.6l-.8 3.8" stroke="#aebab4" stroke-width=".6" fill="none"/><path d="M-.4 7.4h1.1l-.3 4.6h-.5z" fill="#8d9c94"/></g><g transform="translate(643 620.5) rotate(-20) scale(1.0)"><path d="M-3.4 0l2.4 .3 .8 2 .9-2 2.5-.2-.6 6.4-1.6 6.6h-2l-1.8-6.6z" fill="#31463c"/><path d="M-1.9 1.8l.9 3.6M1.7 1.6l-.8 3.8" stroke="#aebab4" stroke-width=".6" fill="none"/><path d="M-.4 7.4h1.1l-.3 4.6h-.5z" fill="#8d9c94"/></g><g transform="translate(657.5 627.5) rotate(-20) scale(1.0)"><path d="M-3.4 0l2.4 .3 .8 2 .9-2 2.5-.2-.6 6.4-1.6 6.6h-2l-1.8-6.6z" fill="#31463c"/><path d="M-1.9 1.8l.9 3.6M1.7 1.6l-.8 3.8" stroke="#aebab4" stroke-width=".6" fill="none"/><path d="M-.4 7.4h1.1l-.3 4.6h-.5z" fill="#8d9c94"/></g><g transform="translate(674.5 636) rotate(-20) scale(1.0)"><path d="M-3.4 0l2.4 .3 .8 2 .9-2 2.5-.2-.6 6.4-1.6 6.6h-2l-1.8-6.6z" fill="#31463c"/><path d="M-1.9 1.8l.9 3.6M1.7 1.6l-.8 3.8" stroke="#aebab4" stroke-width=".6" fill="none"/><path d="M-.4 7.4h1.1l-.3 4.6h-.5z" fill="#8d9c94"/></g><path d="M574.7 371.6L583 375.8" stroke="#1b3b2c" stroke-width="13.6" stroke-linecap="butt" fill="none"/><path d="M574.7 370L583 374.2" stroke="#2e5d47" stroke-width="7.6" stroke-linecap="butt" fill="none"/><ellipse cx="574.7" cy="371.6" rx="5.6" ry="6.9" fill="#345646" transform="rotate(-12 574.7 371.6)"/><ellipse cx="574.2" cy="371.0" rx="4.2" ry="5.4" fill="#3d6b56" transform="rotate(-12 574.7 371.6)"/><ellipse cx="583" cy="375.8" rx="4.1" ry="7.4" fill="#d6b479" transform="rotate(-12 583 375.8)"/><ellipse cx="582.2" cy="375.8" rx="2.4" ry="6.2" fill="#e6cb9a" transform="rotate(-12 583 375.8)"/><path d="M562.3 377.7L571.6 380.3" stroke="#1b3b2c" stroke-width="13.6" stroke-linecap="butt" fill="none"/><path d="M562.3 376.1L571.6 378.7" stroke="#2e5d47" stroke-width="7.6" stroke-linecap="butt" fill="none"/><ellipse cx="562.3" cy="377.7" rx="5.6" ry="6.9" fill="#345646" transform="rotate(-12 562.3 377.7)"/><ellipse cx="561.8" cy="377.09999999999997" rx="4.2" ry="5.4" fill="#3d6b56" transform="rotate(-12 562.3 377.7)"/><ellipse cx="571.6" cy="380.3" rx="4.1" ry="7.4" fill="#d6b479" transform="rotate(-12 571.6 380.3)"/><ellipse cx="570.8000000000001" cy="380.3" rx="2.4" ry="6.2" fill="#e6cb9a" transform="rotate(-12 571.6 380.3)"/><path d="M572.5 380.4L682 412.8" stroke="#234a37" stroke-width="6.2" fill="none" stroke-linejoin="round" stroke-linecap="butt"/><path d="M572.5 380.4L682 412.8" stroke="#44735c" stroke-width="5" fill="none" stroke-linejoin="round" stroke-linecap="butt" transform="translate(-0.35 -0.45)"/><path d="M572.5 380.4L682 412.8" stroke="#9dbfad" stroke-width="1.4" fill="none" stroke-linejoin="round" stroke-linecap="butt" transform="translate(-0.9 -0.9)"/><path d="M584 375.8L692 405.4" stroke="#234a37" stroke-width="6.2" fill="none" stroke-linejoin="round" stroke-linecap="butt"/><path d="M584 375.8L692 405.4" stroke="#44735c" stroke-width="5" fill="none" stroke-linejoin="round" stroke-linecap="butt" transform="translate(-0.35 -0.45)"/><path d="M584 375.8L692 405.4" stroke="#9dbfad" stroke-width="1.4" fill="none" stroke-linejoin="round" stroke-linecap="butt" transform="translate(-0.9 -0.9)"/><path d="M697 406L706.8 412.8" stroke="#1b3b2c" stroke-width="15" stroke-linecap="butt" fill="none"/><path d="M697 404.5L706.8 411.3" stroke="#2e5d47" stroke-width="9.5" stroke-linecap="butt" fill="none"/><path d="M697 401.6L706.8 408.4" stroke="#4f836b" stroke-width="2.4" stroke-linecap="butt" fill="none"/><ellipse cx="697" cy="406" rx="5.2" ry="7.5" fill="#2e5d47" transform="rotate(-15 697 406)"/><g transform="translate(706.8 412.8) rotate(-14)"><ellipse rx="5.3" ry="7.5" fill="#cfa565"/><ellipse rx="4.0" ry="5.9" fill="none" stroke="#e6c998" stroke-width="1.2"/><ellipse rx="1.696" ry="2.4" fill="#a97f45"/></g><path d="M685.5 410.5L696 416.4" stroke="#1b3b2c" stroke-width="15" stroke-linecap="butt" fill="none"/><path d="M685.5 409L696 414.9" stroke="#2e5d47" stroke-width="9.5" stroke-linecap="butt" fill="none"/><path d="M685.5 406.1L696 412" stroke="#4f836b" stroke-width="2.4" stroke-linecap="butt" fill="none"/><ellipse cx="685.5" cy="410.5" rx="5.2" ry="7.5" fill="#2e5d47" transform="rotate(-15 685.5 410.5)"/><g transform="translate(696 416.4) rotate(-14)"><ellipse rx="5.3" ry="7.5" fill="#cfa565"/><ellipse rx="4.0" ry="5.9" fill="none" stroke="#e6c998" stroke-width="1.2"/><ellipse rx="1.696" ry="2.4" fill="#a97f45"/></g></g>
<path d="M580.4 957.6L715.2 993.8" stroke="#3a5e4d" stroke-width="1.1" stroke-linecap="butt" fill="none"/>
<circle cx="580.4" cy="957.6" r="3.7" fill="#3a5e4d"/>
<circle cx="715.2" cy="993.8" r="3.7" fill="#3a5e4d"/>
<path d="M721.8 1003.6L721.8 1325" stroke="#3a5e4d" stroke-width="1.1" stroke-linecap="butt" fill="none"/>
<circle cx="721.9" cy="1003.6" r="3.7" fill="#3a5e4d"/>
<circle cx="721.9" cy="1325" r="3.7" fill="#3a5e4d"/>
<path d="M690 1343.6L713.6 1333.4" stroke="#3a5e4d" stroke-width="1.1" stroke-linecap="butt" fill="none"/>
<circle cx="690" cy="1343.6" r="3.7" fill="#3a5e4d"/>
<circle cx="713.6" cy="1333.4" r="3.7" fill="#3a5e4d"/>
<text x="630.1" y="957.9" font-family="'Liberation Sans','Noto Sans CJK SC',sans-serif" font-size="19.5" fill="#3b5b4b" textLength="90.5" lengthAdjust="spacingAndGlyphs" transform="rotate(-2.5 630.1 957.9)">总宽60cm</text>
<text x="737.5" y="1176" font-family="'Liberation Sans','Noto Sans CJK SC',sans-serif" font-size="19" fill="#3b5b4b" textLength="37" lengthAdjust="spacingAndGlyphs">高度</text>
<text x="726.5" y="1197.6" font-family="'Liberation Sans','Noto Sans CJK SC',sans-serif" font-size="19.5" fill="#3b5b4b" textLength="58" lengthAdjust="spacingAndGlyphs">115cm</text>
<text x="581.5" y="1345.2" font-family="'Liberation Sans','Noto Sans CJK SC',sans-serif" font-size="19.5" fill="#3b5b4b" textLength="88" lengthAdjust="spacingAndGlyphs">厚度14cm</text>
</svg>
<div class="sr"><h2>CONTRACTED</h2><p>Clothes hanger</p><h1>产品参数</h1><section><h3>加大号款：大阳台推荐</h3><p>型号：D-2134/D-2135</p><ul><li>总长180cm</li><li>杆宽54cm</li><li>高度108cm</li><li>总宽60cm</li><li>高度120cm</li><li>厚度14cm</li></ul></section><section><h3>大号款：常规阳台推荐</h3><p>型号：D-2132/D-2133</p><ul><li>总长160cm</li><li>杆宽54cm</li><li>高度103cm</li><li>总宽60cm</li><li>高度115cm</li><li>厚度14cm</li></ul></section></div>
</div></body></html>
